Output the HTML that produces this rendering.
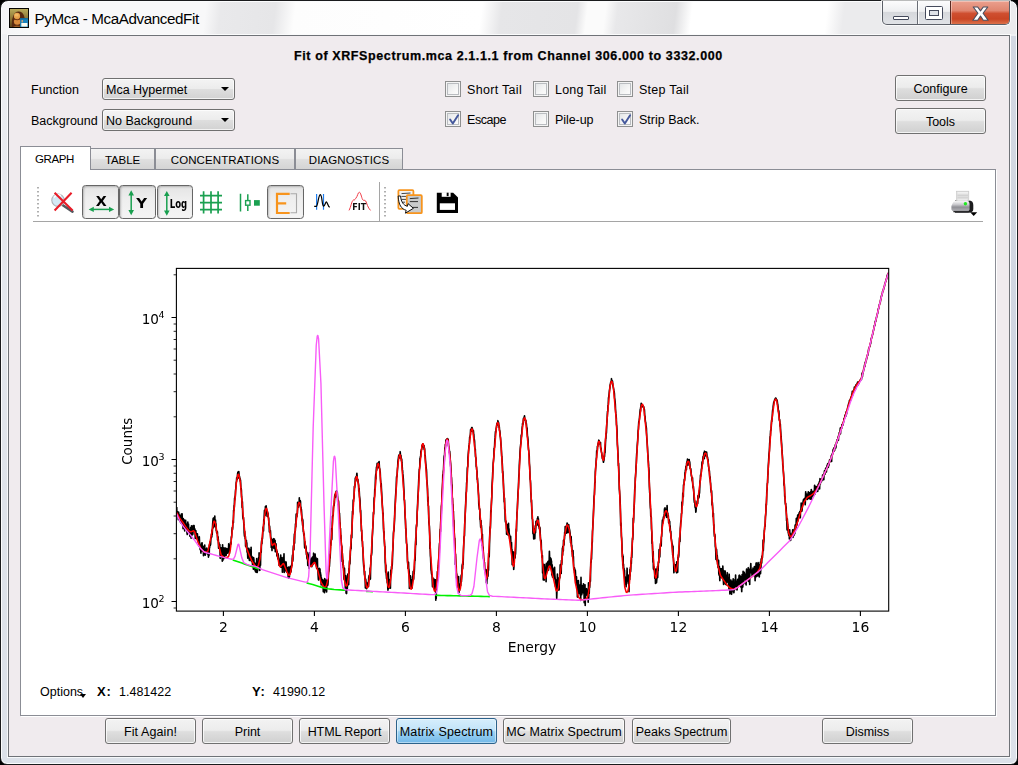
<!DOCTYPE html>
<html lang="en">
<head>
<meta charset="utf-8">
<title>PyMca - McaAdvancedFit</title>
<style>
html,body{margin:0;padding:0;background:#000;}
body{width:1018px;height:765px;overflow:hidden;position:relative;font-family:"Liberation Sans",Arial,sans-serif;font-size:12.5px;color:#000;}
.abs{position:absolute;}
#frame{position:absolute;left:0;top:0;width:1016px;height:763px;border:1px solid #1a1b1d;border-radius:8px 8px 7px 7px;
 background:linear-gradient(180deg,#f6f6f8 0px,#eff0f3 36px,#e6e9ee 200px,#dfe3ea 500px,#dce1e9 765px);box-shadow:inset 0 0 0 1px #fbfcfd;}
#glare{position:absolute;left:2px;top:2px;width:1014px;height:32px;border-radius:6px 6px 0 0;
 background:linear-gradient(97deg,#f4f4f6 0,#f8f8f9 30px,#f8f8f9 203px,#e9e9eb 218px,#e6e6e8 272px,#fdfdfd 292px,#ffffff 477px,#e6e6e8 497px,#e4e4e6 572px,#fbfbfb 582px,#fbfbfb 600px,#e8e8ea 612px,#dfdfe1 670px,#ffffff 686px,#ffffff 820px,#ebebed 837px,#ebebed 1014px);}
#title{position:absolute;left:34.5px;top:8.5px;font-size:15.2px;letter-spacing:-0.4px;line-height:20px;white-space:nowrap;color:#000;text-shadow:0 0 6px #fff,0 0 10px #fff;}
#client{position:absolute;left:8px;top:35px;width:1000px;height:720px;border:1px solid #6f7277;background:#f0ebee;box-shadow:0 0 0 1px rgba(255,255,255,.75);}
.lbl{position:absolute;white-space:nowrap;line-height:16px;}
.combo{position:absolute;width:131px;height:20px;border:1px solid #707070;border-radius:3px;background:linear-gradient(180deg,#f4f4f4 0,#ececec 48%,#dedede 52%,#d2d2d2 100%);box-shadow:inset 0 0 0 1px rgba(255,255,255,.7);}
.combo span{position:absolute;left:3px;top:3px;line-height:16px;white-space:nowrap;}
.combo i{position:absolute;right:5px;top:8px;width:0;height:0;border-left:4px solid transparent;border-right:4px solid transparent;border-top:4px solid #000;}
.cb{position:absolute;width:14px;height:14px;border:1px solid #8e8f8f;background:#f4f4f4;box-shadow:inset 0 0 0 1px #f4f4f4,inset 0 0 0 2px #b9bcc0;background:linear-gradient(135deg,#dfe2e4 0,#f6f6f6 60%,#ffffff 100%);}
.cb svg{position:absolute;left:1px;top:1px;}
.btn{position:absolute;height:24px;border:1px solid #707070;border-radius:3px;background:linear-gradient(180deg,#f3f3f3 0,#ececec 47%,#dedede 53%,#d0d0d0 100%);box-shadow:inset 0 0 0 1px rgba(255,255,255,.75);text-align:center;line-height:26px;white-space:nowrap;}
.btn.hot{border-color:#2c628b;background:linear-gradient(180deg,#d6eefc 0,#c2e4f9 47%,#9ed3f4 53%,#72b8e8 100%);box-shadow:inset 0 0 0 1px rgba(255,255,255,.45);}
#pane{position:absolute;left:20px;top:169px;width:974px;height:545px;border:1px solid #8b8d95;background:#fff;box-shadow:1px 1px 0 #fff;}
.tab{position:absolute;top:148px;height:21px;border:1px solid #8b8d95;border-bottom:none;background:linear-gradient(180deg,#f3f3f3 0,#ececec 47%,#dfdfdf 53%,#d4d4d4 100%);text-align:center;line-height:23px;font-size:11.5px;white-space:nowrap;box-sizing:border-box;}
.tab.sel{top:146px;height:24px;background:#fff;line-height:25px;z-index:3;}
.tbtn{position:absolute;width:34.5px;height:31.5px;border:1px solid #666;border-radius:3.5px;background:linear-gradient(180deg,#e4e4e4 0,#efefef 45%,#f4f4f4 100%);box-shadow:inset 1px 1px 2px rgba(0,0,0,.22);}
svg{display:block;}
#plot text{font-family:"DejaVu Sans","Liberation Sans",sans-serif;fill:#000;}
</style>
</head>
<body>
<div id="frame"></div>
<div id="glare"></div>
<div class="abs" style="left:1011px;top:36px;width:5px;height:722px;background:linear-gradient(180deg,#d3d8e2 0,#cfd5e0 60%,#d9dee7 92%,#dde2ea 100%)"></div>
<svg class="abs" style="left:9px;top:8px;filter:drop-shadow(0 0 1px #fff)" width="20" height="20" viewBox="0 0 20 20">
 <defs><linearGradient id="icb" x1="0" y1="0" x2="0" y2="1"><stop offset="0" stop-color="#b9aa5a"/><stop offset=".55" stop-color="#8a7434"/><stop offset="1" stop-color="#5e4218"/></linearGradient></defs>
 <rect x="0" y="0" width="20" height="20" fill="#050402"/>
 <rect x="1" y="1" width="18" height="18" fill="url(#icb)"/>
 <path d="M3 19 Q2.2 9 6 5 Q9.5 2.2 13.2 4.8 Q16.6 8 16 19 Z" fill="#5a2a10"/>
 <ellipse cx="8" cy="8" rx="3.1" ry="3.2" fill="#e6a24c"/>
 <ellipse cx="7.6" cy="7" rx="2" ry="1.5" fill="#f0b865"/>
 <ellipse cx="8.2" cy="13.6" rx="3.3" ry="3.2" fill="#d98a3c"/>
 <path d="M5 11.1 Q8.2 12.4 11.3 11.1" stroke="#6a3312" stroke-width="1" fill="none"/>
 <path d="M4 19 Q8 16 12 19 Z" fill="#9a5a24"/>
 <rect x="11.1" y="10.2" width="7.9" height="8.8" fill="#1c84be"/>
 <rect x="11.1" y="10.2" width="7.9" height="1.2" fill="#0f6698"/>
 <rect x="12.6" y="12" width="1.3" height="2.4" fill="#d9a070"/>
 <rect x="12.3" y="15" width="6.1" height="3.6" fill="#fbfbef"/>
</svg>
<div id="title">PyMca - McaAdvancedFit</div>
<div class="abs" style="left:882px;top:1px;width:128px;height:24px;border:1px solid #5c6068;border-top:none;border-radius:0 0 5px 5px;box-sizing:border-box;overflow:hidden;background:linear-gradient(180deg,#fcfcfd 0,#eeeff1 45%,#d6d8dc 50%,#e0e2e6 100%);box-shadow:0 0 0 1px rgba(255,255,255,.7);">
 <div class="abs" style="left:34px;top:0;width:1px;height:24px;background:#6a6e76"></div>
 <div class="abs" style="left:35px;top:0;width:1px;height:24px;background:rgba(255,255,255,.8)"></div>
 <div class="abs" style="left:67px;top:0;width:60px;height:24px;border-left:1px solid #5a2a22;background:linear-gradient(180deg,#eba08e 0,#e08670 40%,#cf4f30 52%,#c94524 75%,#e07a52 100%);box-shadow:inset 0 0 0 1px rgba(255,255,255,.35)"></div>
 <svg class="abs" style="left:0;top:0" width="128" height="24" viewBox="0 0 128 24">
  <rect x="10.5" y="15.5" width="15" height="3" rx="0.5" fill="#fff" stroke="#454a5c" stroke-width="1"/>
  <rect x="42.5" y="5.5" width="17" height="13" rx="1" fill="#fff" stroke="#454a5c" stroke-width="1"/>
  <rect x="46.5" y="9.5" width="9" height="5" fill="#dfe2e8" stroke="#454a5c" stroke-width="1"/>
  <path transform="translate(97.5 12.6) scale(1.12 1.1) translate(-97.5 -13)" d="M91 7 L95 7 L97.5 10.5 L100 7 L104 7 L99.8 12.7 L104.3 19 L100 19 L97.5 15.2 L95 19 L90.7 19 L95.2 12.7 Z" fill="#fff" stroke="#4a4e5e" stroke-width="1" stroke-linejoin="round"/>
 </svg>
</div>

<div id="client"></div>
<div class="lbl" style="left:294px;top:48px;width:430px;font-weight:bold;letter-spacing:0.61px;-webkit-text-stroke:0.25px #000;">Fit of XRFSpectrum.mca 2.1.1.1 from Channel 306.000 to 3332.000</div>
<div class="lbl" style="left:31px;top:82px">Function</div>
<div class="lbl" style="left:31px;top:113px">Background</div>
<div class="combo" style="left:102px;top:78px"><span>Mca Hypermet</span><i></i></div>
<div class="combo" style="left:102px;top:109px"><span>No Background</span><i></i></div>
<div class="cb" style="left:445px;top:81px"></div><div class="lbl" style="left:467px;top:82px;letter-spacing:0.31px">Short Tail</div>
<div class="cb" style="left:533px;top:81px"></div><div class="lbl" style="left:555px;top:82px;letter-spacing:0.18px">Long Tail</div>
<div class="cb" style="left:617px;top:81px"></div><div class="lbl" style="left:639px;top:82px;letter-spacing:0.27px">Step Tail</div>
<div class="cb" style="left:445px;top:111px"><svg width="14" height="14" viewBox="-0.5 -0.5 13 13"><path d="M2.4 5.6 L4.9 9.2 L9.8 1.6" fill="none" stroke="#46599c" stroke-width="1.8" stroke-linecap="round" stroke-linejoin="round"/></svg></div><div class="lbl" style="left:467px;top:112px;letter-spacing:-0.45px">Escape</div>
<div class="cb" style="left:533px;top:111px"></div><div class="lbl" style="left:555px;top:112px;letter-spacing:-0.06px">Pile-up</div>
<div class="cb" style="left:617px;top:111px"><svg width="14" height="14" viewBox="-0.5 -0.5 13 13"><path d="M2.4 5.6 L4.9 9.2 L9.8 1.6" fill="none" stroke="#46599c" stroke-width="1.8" stroke-linecap="round" stroke-linejoin="round"/></svg></div><div class="lbl" style="left:639px;top:112px;letter-spacing:0.0px">Strip Back.</div>
<div class="btn" style="left:895px;top:75px;width:89px">Configure</div>
<div class="btn" style="left:895px;top:108px;width:89px">Tools</div>

<div id="pane"></div>
<div class="tab sel" style="left:20px;width:71px;letter-spacing:-0.4px;padding-right:2px">GRAPH</div>
<div class="tab" style="left:90px;width:65px;letter-spacing:-0.15px">TABLE</div>
<div class="tab" style="left:155px;width:140px;letter-spacing:0.1px">CONCENTRATIONS</div>
<div class="tab" style="left:295px;width:108px;letter-spacing:0.1px">DIAGNOSTICS</div>

<div class="abs" style="left:33px;top:221px;width:950px;height:1px;background:#a5a5a5"></div>
<div class="tbtn" style="left:82px;top:185px"></div>
<div class="tbtn" style="left:119px;top:185px"></div>
<div class="tbtn" style="left:156.5px;top:185px"></div>
<div class="tbtn" style="left:267px;top:185px"></div>
<svg class="abs" style="left:30px;top:180px;will-change:transform" width="960" height="42" viewBox="30 180 960 42">
 <!-- handles -->
 <path d="M38 187v1.6M38 191v1.6M38 195v1.6M38 199v1.6M38 203v1.6M38 207v1.6M38 211v1.6M38 215v1.6" stroke="#9c9c9c" stroke-width="1.6" stroke-dasharray="none"/>
 <path d="M385 187v1.6M385 191v1.6M385 195v1.6M385 199v1.6M385 203v1.6M385 207v1.6M385 211v1.6M385 215v1.6" stroke="#9c9c9c" stroke-width="1.6"/>
 <path d="M379.5 182V221" stroke="#a5a5a5" stroke-width="1"/>
 <!-- zoom reset -->
 <path d="M62.5 205 L72.5 211.6" stroke="#55585e" stroke-width="2.6" stroke-linecap="round"/>
 <circle cx="58" cy="200.2" r="6.2" fill="#d4e9f5" stroke="#b0b3b9" stroke-width="1.1"/>
 <path d="M54 197.5 A5 5 0 0 1 61 195.6" stroke="#fff" stroke-width="1.6" fill="none"/>
 <path d="M54.6 192.8 L72.6 210.4 M71.6 192.8 L54.6 210.4" stroke="#e81c28" stroke-width="2.1" stroke-linecap="butt"/>
 <!-- X -->
 <text x="101.2" y="205.6" font-family="'DejaVu Sans','Liberation Sans',sans-serif" font-weight="bold" font-size="13.5" text-anchor="middle" textLength="11" lengthAdjust="spacingAndGlyphs" fill="#000">X</text>
 <path d="M92.5 209.4H110.5" stroke="#1aa050" stroke-width="1.5"/>
 <path d="M88.6 209.4l5.2-2.7v5.4z M114.2 209.4l-5.2-2.7v5.4z" fill="#1aa050"/>
 <!-- Y -->
 <path d="M131.2 194.5V211" stroke="#1aa050" stroke-width="1.5"/>
 <path d="M131.2 190.3l-2.8 5.2h5.6z M131.2 215.2l-2.8-5.2h5.6z" fill="#1aa050"/>
 <text x="141.6" y="207.6" font-family="'DejaVu Sans','Liberation Sans',sans-serif" font-weight="bold" font-size="13.5" text-anchor="middle" textLength="10.8" lengthAdjust="spacingAndGlyphs" fill="#000">Y</text>
 <!-- Log -->
 <path d="M166.8 195V211.5" stroke="#1aa050" stroke-width="1.5"/>
 <path d="M166.8 190.9l-2.8 5.2h5.6z M166.8 215.7l-2.8-5.2h5.6z" fill="#1aa050"/>
 <text x="169.8" y="207.6" font-family="'DejaVu Sans Condensed','Liberation Sans',sans-serif" font-weight="bold" font-size="12" textLength="17.4" lengthAdjust="spacingAndGlyphs" fill="#000">Log</text>
 <!-- grid -->
 <path d="M200 195.6H222M200 202.6H222M200 209.6H222M203.6 191.3V213.4M211 191.3V213.4M218.1 191.3V213.4" stroke="#1aa050" stroke-width="1.7"/>
 <!-- points/lines -->
 <path d="M240.5 193.7V211.4M247.8 194.2V200M247.8 205.6V211" stroke="#1aa050" stroke-width="1.5"/>
 <rect x="245.6" y="200.6" width="4.4" height="4.6" fill="#fff" stroke="#1aa050" stroke-width="1.4"/>
 <rect x="254" y="200.1" width="5.8" height="5.6" fill="#1aa050"/>
 <!-- E] -->
 <path d="M289.7 193.8H277V213H289.7M277 203.3H286.2" stroke="#f7941d" stroke-width="2.2" fill="none"/>
 <path d="M290.5 193.8H296.5V212.7H290.5" stroke="#a9a9a9" stroke-width="1.1" fill="none"/>
 <!-- peak search -->
 <path d="M316.6 193.9V209.8M323.5 193.9V209.8" stroke="#1e7ef0" stroke-width="1.2"/>
 <path d="M314.2 206.3H316.4C318 206 318.3 195 320.3 194.6C322.3 195 321.8 205.6 323.6 206.2C325 206 325.4 201.8 326.4 201.8C327.5 202 327.6 206.4 329.8 207.2" stroke="#000" stroke-width="1.2" fill="none"/>
 <!-- FIT -->
 <path d="M349 210.4C351 207 351.5 201 353.4 200C355 200.2 355.2 199 356 198C357.5 196.5 358 192.2 359.3 192.2C360.6 192.2 361.5 197 362.5 199.5C363.3 201 364.6 199.6 365.7 201C367 203.5 367.6 207.5 370.5 210.4" stroke="#f03a46" stroke-width="1" fill="none"/>
 <text x="352.3" y="209.8" font-family="'DejaVu Sans','Liberation Sans',sans-serif" font-weight="bold" font-size="8.6" textLength="14" lengthAdjust="spacingAndGlyphs" fill="#111">FIT</text>
 <!-- copy -->
 <rect x="398.4" y="190.2" width="15" height="18.6" rx="1" fill="#f2f2f2" stroke="#f7941d" stroke-width="1.8"/>
 <path d="M401.5 193.6L410.5 193M401.5 196.4H408.5M401.5 199.4H406M401.5 202.2H405" stroke="#444" stroke-width="1"/>
 <rect x="406.8" y="195.2" width="15" height="18" rx="1" fill="#c9cbcc" stroke="#f7941d" stroke-width="1.8"/>
 <path d="M409.8 198.6L418.5 198M409.8 201.6H418M411.8 207.4H418" stroke="#333" stroke-width="1"/>
 <path d="M398.2 196C398.5 205 401.5 209 406.2 210.3L405.4 213.2L413.4 208.3L408 203.6L407.4 206.3C403.5 205.3 401 202 400.6 196Z" fill="#fff" stroke="#111" stroke-width="1" stroke-linejoin="round"/>
 <!-- save -->
 <path d="M436.8 192.7H453.2L458 197.5V212.9H436.8Z" fill="#000"/>
 <rect x="441.7" y="192.2" width="8.9" height="4.6" fill="#fff"/>
 <rect x="446.7" y="192.7" width="1.9" height="3.4" fill="#000"/>
 <rect x="439.8" y="203.3" width="15.2" height="6.6" fill="#fff"/>
 <!-- printer -->
 <defs>
  <linearGradient id="prf" x1="0" y1="0" x2="0" y2="1"><stop offset="0" stop-color="#fdfdfd"/><stop offset=".35" stop-color="#c9c9cd"/><stop offset=".6" stop-color="#8f8f95"/><stop offset="1" stop-color="#b5b5ba"/></linearGradient>
 </defs>
 <path d="M955 200.6H968.5Q973.3 200.6 973.3 205V209Q973.3 212.8 968.5 212.8H955Z" fill="#1c1c1e"/>
 <path d="M952.2 204.2Q953.5 200.8 956 200.8H967Q969.5 201 969.6 204.2V209.5Q969.4 211.3 967 211.4H954Q951.6 211.3 951.4 209.5V206Z" fill="url(#prf)"/>
 <path d="M953.4 211.6H968.4" stroke="#2a2a2c" stroke-width="1.4"/>
 <rect x="956.6" y="191.2" width="12.2" height="9.6" fill="#dedede" stroke="#c4c4c4" stroke-width=".6"/>
 <path d="M957.5 192.8H968M957.5 200H967.5" stroke="#f6f6f6" stroke-width="1.2"/>
 <path d="M957.5 195.5H968M957.5 197.6H968" stroke="#cfcfcf" stroke-width=".8"/>
 <circle cx="965.4" cy="203.8" r="1.7" fill="#20e820"/>
 <path d="M970.2 212.2H977.2L973.7 215.9Z" fill="#000"/>
</svg>

<svg id="plot" class="abs" style="left:0;top:222px;will-change:transform" width="1018" height="460" viewBox="0 222 1018 460">
<clipPath id="ax"><rect x="176.4" y="268.4" width="712.3000000000001" height="342.70000000000005"/></clipPath>
<g clip-path="url(#ax)" fill="none" stroke-linejoin="round" stroke-linecap="butt">
<path d="M176.7,507.1 L176.9,513.4 L177.2,512.4 L177.4,511.8 L177.6,515.6 L177.9,513.7 L178.1,514.1 L178.3,519.7 L178.6,512.0 L178.8,513.5 L179.1,517.5 L179.3,516.5 L179.5,514.9 L179.8,517.6 L180.0,517.8 L180.2,521.8 L180.5,516.0 L180.7,517.5 L180.9,517.4 L181.2,523.2 L181.4,514.0 L181.6,518.6 L181.9,520.6 L182.1,513.9 L182.3,520.2 L182.6,525.0 L182.8,522.1 L183.1,528.6 L183.3,518.5 L183.5,523.3 L183.8,524.8 L184.0,519.6 L184.2,528.6 L184.5,522.1 L184.7,531.0 L184.9,526.6 L185.2,528.8 L185.4,520.8 L185.6,520.3 L185.9,527.1 L186.1,523.8 L186.3,527.3 L186.6,525.3 L186.8,530.0 L187.1,533.7 L187.3,534.4 L187.5,527.4 L187.8,522.0 L188.0,528.4 L188.2,531.4 L188.5,524.0 L188.7,529.4 L188.9,530.1 L189.2,529.9 L189.4,531.3 L189.6,532.1 L189.9,536.2 L190.1,529.7 L190.3,531.8 L190.6,527.7 L190.8,532.7 L191.1,538.1 L191.3,531.7 L191.5,525.9 L191.8,532.4 L192.0,534.0 L192.2,534.9 L192.5,534.2 L192.7,531.5 L192.9,534.4 L193.2,525.5 L193.4,531.1 L193.6,529.8 L193.9,525.7 L194.1,525.6 L194.3,531.3 L194.6,529.8 L194.8,528.9 L195.1,532.4 L195.3,538.5 L195.5,530.7 L195.8,530.6 L196.0,532.8 L196.2,538.2 L196.5,536.5 L196.7,538.7 L196.9,538.5 L197.2,533.9 L197.4,533.9 L197.6,537.5 L197.9,538.7 L198.1,539.0 L198.3,542.1 L198.6,543.0 L198.8,545.9 L199.1,544.2 L199.3,536.7 L199.5,541.9 L199.8,546.8 L200.0,547.7 L200.2,549.7 L200.5,545.3 L200.7,545.6 L200.9,553.1 L201.2,545.9 L201.4,550.3 L201.6,543.2 L201.9,548.1 L202.1,542.8 L202.3,551.1 L202.6,550.7 L202.8,548.8 L203.1,546.3 L203.3,548.4 L203.5,555.7 L203.8,550.2 L204.0,550.9 L204.2,552.9 L204.5,553.9 L204.7,545.0 L204.9,553.1 L205.2,555.1 L205.4,549.4 L205.6,551.4 L205.9,552.2 L206.1,548.9 L206.3,550.0 L206.6,550.4 L206.8,548.1 L207.1,550.6 L207.3,553.9 L207.5,552.7 L207.8,553.0 L208.0,549.8 L208.2,554.4 L208.5,557.1 L208.7,548.6 L208.9,553.5 L209.2,555.1 L209.4,544.9 L209.6,547.9 L209.9,542.2 L210.1,544.6 L210.3,545.4 L210.6,544.3 L210.8,540.0 L211.1,537.5 L211.3,537.8 L211.5,534.2 L211.8,537.0 L212.0,530.0 L212.2,534.6 L212.5,527.7 L212.7,523.6 L212.9,521.2 L213.2,518.4 L213.4,527.7 L213.6,519.7 L213.9,517.9 L214.1,518.2 L214.3,523.9 L214.6,519.9 L214.8,516.0 L215.1,526.7 L215.3,521.1 L215.5,520.1 L215.8,526.7 L216.0,523.9 L216.2,530.5 L216.5,531.2 L216.7,532.8 L216.9,531.0 L217.2,533.7 L217.4,531.9 L217.6,540.1 L217.9,539.0 L218.1,536.8 L218.3,539.8 L218.6,548.3 L218.8,542.3 L219.1,547.8 L219.3,545.7 L219.5,547.1 L219.8,544.6 L220.0,549.5 L220.2,558.3 L220.5,556.8 L220.7,548.8 L220.9,553.0 L221.2,547.9 L221.4,551.4 L221.6,555.6 L221.9,548.5 L222.1,555.8 L222.3,561.2 L222.6,544.8 L222.8,560.4 L223.1,549.8 L223.3,548.5 L223.5,551.4 L223.8,558.8 L224.0,547.9 L224.2,557.5 L224.5,557.0 L224.7,552.8 L224.9,548.3 L225.2,550.0 L225.4,548.0 L225.6,552.8 L225.9,551.7 L226.1,555.5 L226.3,552.2 L226.6,548.6 L226.8,552.1 L227.1,549.1 L227.3,553.1 L227.5,553.2 L227.8,550.7 L228.0,551.5 L228.2,548.4 L228.5,549.8 L228.7,543.9 L228.9,550.9 L229.2,550.6 L229.4,553.4 L229.6,548.6 L229.9,545.4 L230.1,550.0 L230.3,546.3 L230.6,542.3 L230.8,544.0 L231.1,543.9 L231.3,536.9 L231.5,538.0 L231.8,534.8 L232.0,530.0 L232.2,527.7 L232.5,529.8 L232.7,527.6 L232.9,522.1 L233.2,520.4 L233.4,522.8 L233.6,510.3 L233.9,510.7 L234.1,505.6 L234.3,507.7 L234.6,498.2 L234.8,500.1 L235.1,496.0 L235.3,496.5 L235.5,490.8 L235.8,488.5 L236.0,486.1 L236.2,482.6 L236.5,481.5 L236.7,477.9 L236.9,479.5 L237.2,479.4 L237.4,476.2 L237.6,474.0 L237.9,472.1 L238.1,472.6 L238.4,478.0 L238.6,473.5 L238.8,471.6 L239.1,475.0 L239.3,477.0 L239.5,476.3 L239.8,479.3 L240.0,478.2 L240.2,481.3 L240.5,480.1 L240.7,484.1 L240.9,489.2 L241.2,488.5 L241.4,490.3 L241.6,496.7 L241.9,499.2 L242.1,507.4 L242.4,501.8 L242.6,508.9 L242.8,516.7 L243.1,519.0 L243.3,517.5 L243.5,517.7 L243.8,523.4 L244.0,524.6 L244.2,532.6 L244.5,536.3 L244.7,531.3 L244.9,535.0 L245.2,539.0 L245.4,536.5 L245.6,546.3 L245.9,545.9 L246.1,542.1 L246.4,540.5 L246.6,548.1 L246.8,542.9 L247.1,552.2 L247.3,549.2 L247.5,551.8 L247.8,558.1 L248.0,551.0 L248.2,548.9 L248.5,553.4 L248.7,553.4 L248.9,548.2 L249.2,559.0 L249.4,560.5 L249.6,557.2 L249.9,559.9 L250.1,550.1 L250.4,554.5 L250.6,559.8 L250.8,559.2 L251.1,547.3 L251.3,560.1 L251.5,561.3 L251.8,557.3 L252.0,556.5 L252.2,558.6 L252.5,564.0 L252.7,565.6 L252.9,558.6 L253.2,561.7 L253.4,569.3 L253.6,557.6 L253.9,559.6 L254.1,564.2 L254.4,564.7 L254.6,562.9 L254.8,567.3 L255.1,570.7 L255.3,563.4 L255.5,571.7 L255.8,563.6 L256.0,572.2 L256.2,566.1 L256.5,566.4 L256.7,558.6 L256.9,570.8 L257.2,572.5 L257.4,568.8 L257.6,570.9 L257.9,568.3 L258.1,563.5 L258.4,561.7 L258.6,557.7 L258.8,567.1 L259.1,552.9 L259.3,554.3 L259.5,562.0 L259.8,570.4 L260.0,558.9 L260.2,556.7 L260.5,565.4 L260.7,553.1 L260.9,552.1 L261.2,552.2 L261.4,544.5 L261.6,540.8 L261.9,543.6 L262.1,538.4 L262.4,538.9 L262.6,536.6 L262.8,531.0 L263.1,527.0 L263.3,527.9 L263.5,531.0 L263.8,519.6 L264.0,524.2 L264.2,516.8 L264.5,510.3 L264.7,513.7 L264.9,515.6 L265.2,515.2 L265.4,506.7 L265.6,509.2 L265.9,507.1 L266.1,505.8 L266.4,508.4 L266.6,509.3 L266.8,511.5 L267.1,516.3 L267.3,514.9 L267.5,511.8 L267.8,513.4 L268.0,513.3 L268.2,516.6 L268.5,517.6 L268.7,517.8 L268.9,525.1 L269.2,525.4 L269.4,532.1 L269.6,526.0 L269.9,531.2 L270.1,531.9 L270.4,530.5 L270.6,533.9 L270.8,539.5 L271.1,538.0 L271.3,547.5 L271.5,541.5 L271.8,543.3 L272.0,550.6 L272.2,539.8 L272.5,547.2 L272.7,542.0 L272.9,545.7 L273.2,540.2 L273.4,538.7 L273.6,546.0 L273.9,548.4 L274.1,542.7 L274.4,539.0 L274.6,543.3 L274.8,544.3 L275.1,540.5 L275.3,551.7 L275.5,545.8 L275.8,549.4 L276.0,543.9 L276.2,548.9 L276.5,551.7 L276.7,550.0 L276.9,556.0 L277.2,551.6 L277.4,555.8 L277.6,556.1 L277.9,559.0 L278.1,553.8 L278.4,559.2 L278.6,557.8 L278.8,559.0 L279.1,565.4 L279.3,560.2 L279.5,561.7 L279.8,562.2 L280.0,565.5 L280.2,565.8 L280.5,560.6 L280.7,555.0 L280.9,567.2 L281.2,561.0 L281.4,564.5 L281.6,559.3 L281.9,560.4 L282.1,557.5 L282.4,572.2 L282.6,564.0 L282.8,565.5 L283.1,561.5 L283.3,564.2 L283.5,563.9 L283.8,558.5 L284.0,553.9 L284.2,572.5 L284.5,563.6 L284.7,561.4 L284.9,563.3 L285.2,565.4 L285.4,570.7 L285.6,569.5 L285.9,562.8 L286.1,562.1 L286.4,567.0 L286.6,572.0 L286.8,568.4 L287.1,570.5 L287.3,567.6 L287.5,570.1 L287.8,574.0 L288.0,570.6 L288.2,577.5 L288.5,568.4 L288.7,567.0 L288.9,578.1 L289.2,570.4 L289.4,577.0 L289.6,567.3 L289.9,567.7 L290.1,572.4 L290.4,566.4 L290.6,572.1 L290.8,572.2 L291.1,570.9 L291.3,567.8 L291.5,567.3 L291.8,563.8 L292.0,565.6 L292.2,558.0 L292.5,555.1 L292.7,559.2 L292.9,560.9 L293.2,549.8 L293.4,545.8 L293.6,548.1 L293.9,549.8 L294.1,541.1 L294.4,534.1 L294.6,543.3 L294.8,532.1 L295.1,531.9 L295.3,530.9 L295.5,523.9 L295.8,527.0 L296.0,519.4 L296.2,514.1 L296.5,515.1 L296.7,516.1 L296.9,516.8 L297.2,513.4 L297.4,513.3 L297.6,502.4 L297.9,506.0 L298.1,507.2 L298.4,507.0 L298.6,505.7 L298.8,503.3 L299.1,505.6 L299.3,497.9 L299.5,504.3 L299.8,504.9 L300.0,502.6 L300.2,500.5 L300.5,501.8 L300.7,507.8 L300.9,507.1 L301.2,509.0 L301.4,509.6 L301.6,512.2 L301.9,517.7 L302.1,520.9 L302.4,518.7 L302.6,525.2 L302.8,519.7 L303.1,526.0 L303.3,531.8 L303.5,531.7 L303.8,534.6 L304.0,535.5 L304.2,533.9 L304.5,544.4 L304.7,548.0 L304.9,541.5 L305.2,545.0 L305.4,545.2 L305.6,545.6 L305.9,549.2 L306.1,546.8 L306.4,554.5 L306.6,551.8 L306.8,556.5 L307.1,558.8 L307.3,552.7 L307.5,553.8 L307.8,565.5 L308.0,562.8 L308.2,557.7 L308.5,555.4 L308.7,563.4 L308.9,562.1 L309.2,568.4 L309.4,552.8 L309.6,561.2 L309.9,559.9 L310.1,561.1 L310.4,560.2 L310.6,561.7 L310.8,565.7 L311.1,561.0 L311.3,563.7 L311.5,558.4 L311.8,566.7 L312.0,565.5 L312.2,560.0 L312.5,557.1 L312.7,561.4 L312.9,564.7 L313.2,561.8 L313.4,563.1 L313.6,553.2 L313.9,556.9 L314.1,555.3 L314.4,559.1 L314.6,562.8 L314.8,555.8 L315.1,554.1 L315.3,558.6 L315.5,561.4 L315.8,557.3 L316.0,563.9 L316.2,559.7 L316.5,566.6 L316.7,568.5 L316.9,562.5 L317.2,564.3 L317.4,558.7 L317.6,568.7 L317.9,568.3 L318.1,574.7 L318.4,579.4 L318.6,579.9 L318.8,570.0 L319.1,578.7 L319.3,568.9 L319.5,568.4 L319.8,577.0 L320.0,569.0 L320.2,576.2 L320.5,572.8 L320.7,579.9 L320.9,574.9 L321.2,584.9 L321.4,577.7 L321.6,583.6 L321.9,582.5 L322.1,579.2 L322.4,581.9 L322.6,583.6 L322.8,580.0 L323.1,580.0 L323.3,591.7 L323.5,581.8 L323.8,581.5 L324.0,589.0 L324.2,583.3 L324.5,592.7 L324.7,578.6 L324.9,586.9 L325.2,586.1 L325.4,579.8 L325.6,586.4 L325.9,582.4 L326.1,590.8 L326.4,587.8 L326.6,591.9 L326.8,584.9 L327.1,578.1 L327.3,581.1 L327.5,576.9 L327.8,585.3 L328.0,583.0 L328.2,579.3 L328.5,572.5 L328.7,571.5 L328.9,570.9 L329.2,565.7 L329.4,566.4 L329.6,562.9 L329.9,554.6 L330.1,558.3 L330.4,551.9 L330.6,543.4 L330.8,545.4 L331.1,539.8 L331.3,540.9 L331.5,528.7 L331.8,539.4 L332.0,531.7 L332.2,527.8 L332.5,516.3 L332.7,516.7 L332.9,515.4 L333.2,515.4 L333.4,507.8 L333.6,505.9 L333.9,505.6 L334.1,505.5 L334.4,502.4 L334.6,497.2 L334.8,495.4 L335.1,494.6 L335.3,494.1 L335.5,497.3 L335.8,492.2 L336.0,494.5 L336.2,491.8 L336.5,490.9 L336.7,494.1 L336.9,495.7 L337.2,491.7 L337.4,494.4 L337.6,498.3 L337.9,504.4 L338.1,500.3 L338.4,500.6 L338.6,501.7 L338.8,509.0 L339.1,511.6 L339.3,514.0 L339.5,513.4 L339.8,522.6 L340.0,522.7 L340.2,528.8 L340.5,528.4 L340.7,538.4 L340.9,535.3 L341.2,542.0 L341.4,544.7 L341.6,545.5 L341.9,546.6 L342.1,561.5 L342.4,553.6 L342.6,558.4 L342.8,564.9 L343.1,560.4 L343.3,568.0 L343.5,565.5 L343.8,576.0 L344.0,579.3 L344.2,571.1 L344.5,568.4 L344.7,576.3 L344.9,576.1 L345.2,583.7 L345.4,588.9 L345.6,583.6 L345.9,575.7 L346.1,593.2 L346.4,585.7 L346.6,593.6 L346.8,582.3 L347.1,578.2 L347.3,588.4 L347.5,583.2 L347.8,574.0 L348.0,579.5 L348.2,584.0 L348.5,582.8 L348.7,584.6 L348.9,568.7 L349.2,573.3 L349.4,562.7 L349.6,560.7 L349.9,564.0 L350.1,560.0 L350.4,551.2 L350.6,549.8 L350.8,545.5 L351.1,548.7 L351.3,535.2 L351.5,537.0 L351.8,537.7 L352.0,527.5 L352.2,520.1 L352.5,511.3 L352.7,514.3 L352.9,513.2 L353.2,500.2 L353.4,501.7 L353.6,499.4 L353.9,498.3 L354.1,495.1 L354.4,486.4 L354.6,488.0 L354.8,486.3 L355.1,484.2 L355.3,478.0 L355.5,481.2 L355.8,477.3 L356.0,477.1 L356.2,476.5 L356.5,478.5 L356.7,475.1 L356.9,473.3 L357.2,477.2 L357.4,479.8 L357.7,481.6 L357.9,479.6 L358.1,482.1 L358.4,483.5 L358.6,485.3 L358.8,491.1 L359.1,488.3 L359.3,492.3 L359.5,496.0 L359.8,498.4 L360.0,500.0 L360.2,505.9 L360.5,512.2 L360.7,510.4 L360.9,519.0 L361.2,524.1 L361.4,531.2 L361.7,530.3 L361.9,538.2 L362.1,540.7 L362.4,541.4 L362.6,547.0 L362.8,547.2 L363.1,553.7 L363.3,560.2 L363.5,563.3 L363.8,567.3 L364.0,565.2 L364.2,570.6 L364.5,575.0 L364.7,571.3 L364.9,576.6 L365.2,581.0 L365.4,588.0 L365.7,579.1 L365.9,581.1 L366.1,582.8 L366.4,585.9 L366.6,588.6 L366.8,585.6 L367.1,583.5 L367.3,585.3 L367.5,585.3 L367.8,586.8 L368.0,582.2 L368.2,582.2 L368.5,586.5 L368.7,578.0 L368.9,576.8 L369.2,575.4 L369.4,578.3 L369.7,576.8 L369.9,579.4 L370.1,568.0 L370.4,579.1 L370.6,567.5 L370.8,564.0 L371.1,555.5 L371.3,555.2 L371.5,555.1 L371.8,552.7 L372.0,545.5 L372.2,537.9 L372.5,533.6 L372.7,529.8 L372.9,526.7 L373.2,520.6 L373.4,512.6 L373.7,514.1 L373.9,506.5 L374.1,498.3 L374.4,496.9 L374.6,495.5 L374.8,489.1 L375.1,488.9 L375.3,483.8 L375.5,477.5 L375.8,474.0 L376.0,479.0 L376.2,471.5 L376.5,467.0 L376.7,470.1 L376.9,466.9 L377.2,463.3 L377.4,466.0 L377.7,463.4 L377.9,463.9 L378.1,467.4 L378.4,463.0 L378.6,464.3 L378.8,462.8 L379.1,461.5 L379.3,465.2 L379.5,468.7 L379.8,468.7 L380.0,471.2 L380.2,471.7 L380.5,479.3 L380.7,481.5 L380.9,486.6 L381.2,483.6 L381.4,488.4 L381.7,493.5 L381.9,497.6 L382.1,501.2 L382.4,506.4 L382.6,509.0 L382.8,514.0 L383.1,513.1 L383.3,520.7 L383.5,528.9 L383.8,532.9 L384.0,531.6 L384.2,538.5 L384.5,543.5 L384.7,546.2 L384.9,547.0 L385.2,562.1 L385.4,563.9 L385.7,572.1 L385.9,565.1 L386.1,571.9 L386.4,576.0 L386.6,578.8 L386.8,573.9 L387.1,579.5 L387.3,583.0 L387.5,575.6 L387.8,588.1 L388.0,590.1 L388.2,572.0 L388.5,586.2 L388.7,587.3 L388.9,588.3 L389.2,585.0 L389.4,580.1 L389.7,579.7 L389.9,579.9 L390.1,583.0 L390.4,588.2 L390.6,577.5 L390.8,570.2 L391.1,570.3 L391.3,573.6 L391.5,566.7 L391.8,569.0 L392.0,564.3 L392.2,566.0 L392.5,558.2 L392.7,552.3 L392.9,549.3 L393.2,541.5 L393.4,533.3 L393.7,530.7 L393.9,531.3 L394.1,527.8 L394.4,522.7 L394.6,518.9 L394.8,511.1 L395.1,505.4 L395.3,501.6 L395.5,497.2 L395.8,493.0 L396.0,489.7 L396.2,487.2 L396.5,478.0 L396.7,476.0 L396.9,476.9 L397.2,473.8 L397.4,470.3 L397.7,466.4 L397.9,461.8 L398.1,460.2 L398.4,458.3 L398.6,456.7 L398.8,455.3 L399.1,454.9 L399.3,454.6 L399.5,455.1 L399.8,457.8 L400.0,454.8 L400.2,451.7 L400.5,456.3 L400.7,457.3 L400.9,455.4 L401.2,458.3 L401.4,460.9 L401.7,459.0 L401.9,462.7 L402.1,464.8 L402.4,469.9 L402.6,470.6 L402.8,473.9 L403.1,476.2 L403.3,478.9 L403.5,482.5 L403.8,488.5 L404.0,491.3 L404.2,500.1 L404.5,499.9 L404.7,504.2 L404.9,511.8 L405.2,517.7 L405.4,520.3 L405.7,528.8 L405.9,528.6 L406.1,533.4 L406.4,542.5 L406.6,543.4 L406.8,544.1 L407.1,548.2 L407.3,552.3 L407.5,560.6 L407.8,564.9 L408.0,568.4 L408.2,567.0 L408.5,562.2 L408.7,568.3 L408.9,569.4 L409.2,572.2 L409.4,588.4 L409.7,582.2 L409.9,584.5 L410.1,577.1 L410.4,575.8 L410.6,587.8 L410.8,584.4 L411.1,582.0 L411.3,587.4 L411.5,588.0 L411.8,587.9 L412.0,579.5 L412.2,587.9 L412.5,576.9 L412.7,580.8 L412.9,576.3 L413.2,571.3 L413.4,579.8 L413.7,578.3 L413.9,570.0 L414.1,574.1 L414.4,569.5 L414.6,563.4 L414.8,558.6 L415.1,560.6 L415.3,552.7 L415.5,544.6 L415.8,537.5 L416.0,544.7 L416.2,528.4 L416.5,524.9 L416.7,526.1 L416.9,522.2 L417.2,511.5 L417.4,508.9 L417.7,502.6 L417.9,496.0 L418.1,494.5 L418.4,488.7 L418.6,483.6 L418.8,478.6 L419.1,472.9 L419.3,469.4 L419.5,468.7 L419.8,466.3 L420.0,458.4 L420.2,458.6 L420.5,456.3 L420.7,456.6 L420.9,451.1 L421.2,451.8 L421.4,449.5 L421.7,449.5 L421.9,446.9 L422.1,445.0 L422.4,446.8 L422.6,445.4 L422.8,443.8 L423.1,445.8 L423.3,446.1 L423.5,446.0 L423.8,447.8 L424.0,445.5 L424.2,449.5 L424.5,448.1 L424.7,449.7 L424.9,455.4 L425.2,455.5 L425.4,459.1 L425.7,463.1 L425.9,464.6 L426.1,467.7 L426.4,469.3 L426.6,472.3 L426.8,480.7 L427.1,483.2 L427.3,485.4 L427.5,488.2 L427.8,501.5 L428.0,497.1 L428.2,505.5 L428.5,505.9 L428.7,516.2 L428.9,522.6 L429.2,524.9 L429.4,526.4 L429.7,535.0 L429.9,548.7 L430.1,542.3 L430.4,555.8 L430.6,557.7 L430.8,562.9 L431.1,570.1 L431.3,571.2 L431.5,573.4 L431.8,574.7 L432.0,574.8 L432.2,578.6 L432.5,586.8 L432.7,581.9 L432.9,577.9 L433.2,579.3 L433.4,584.4 L433.7,582.9 L433.9,582.2 L434.1,580.5 L434.4,579.4 L434.6,589.6 L434.8,589.4 L435.1,580.7 L435.3,580.1 L435.5,579.8 L435.8,600.2 L436.0,587.4 L436.2,598.5 L436.5,580.7 L436.7,582.7 L436.9,581.2 L437.2,580.4 L437.4,571.7 L437.7,576.8 L437.9,568.2 L438.1,567.5 L438.4,565.2 L438.6,561.3 L438.8,559.0 L439.1,560.0 L439.3,548.4 L439.5,544.0 L439.8,542.5 L440.0,534.7 L440.2,529.3 L440.5,531.5 L440.7,522.6 L440.9,518.5 L441.2,514.7 L441.4,506.3 L441.7,504.5 L441.9,498.5 L442.1,492.1 L442.4,487.4 L442.6,483.0 L442.8,474.8 L443.1,476.5 L443.3,471.0 L443.5,470.3 L443.8,463.4 L444.0,458.9 L444.2,455.8 L444.5,456.2 L444.7,452.9 L444.9,447.9 L445.2,448.0 L445.4,444.4 L445.7,445.8 L445.9,440.5 L446.1,439.9 L446.4,439.8 L446.6,441.0 L446.8,439.5 L447.1,438.8 L447.3,438.6 L447.5,439.4 L447.8,440.0 L448.0,440.1 L448.2,439.2 L448.5,445.9 L448.7,446.3 L448.9,448.3 L449.2,448.8 L449.4,452.8 L449.7,451.2 L449.9,454.6 L450.1,458.0 L450.4,461.9 L450.6,463.6 L450.8,467.0 L451.1,470.4 L451.3,476.4 L451.5,477.6 L451.8,486.6 L452.0,484.7 L452.2,497.9 L452.5,498.3 L452.7,504.8 L452.9,504.4 L453.2,515.8 L453.4,511.3 L453.7,526.4 L453.9,520.4 L454.1,530.0 L454.4,536.3 L454.6,539.7 L454.8,538.2 L455.1,547.0 L455.3,564.4 L455.5,554.0 L455.8,561.5 L456.0,573.5 L456.2,565.8 L456.5,577.9 L456.7,573.8 L456.9,575.8 L457.2,582.2 L457.4,577.5 L457.7,587.5 L457.9,582.4 L458.1,587.2 L458.4,586.1 L458.6,576.5 L458.8,585.5 L459.1,592.2 L459.3,587.0 L459.5,590.4 L459.8,585.8 L460.0,584.7 L460.2,584.4 L460.5,583.6 L460.7,585.8 L460.9,579.5 L461.2,575.2 L461.4,581.6 L461.7,576.7 L461.9,573.9 L462.1,566.1 L462.4,564.0 L462.6,568.7 L462.8,561.7 L463.1,564.7 L463.3,558.1 L463.5,549.8 L463.8,543.0 L464.0,537.3 L464.2,536.8 L464.5,535.3 L464.7,524.4 L464.9,521.0 L465.2,514.1 L465.4,509.8 L465.7,503.2 L465.9,498.4 L466.1,493.0 L466.4,491.3 L466.6,483.2 L466.8,481.9 L467.1,476.2 L467.3,468.3 L467.5,467.2 L467.8,466.2 L468.0,457.4 L468.2,454.8 L468.5,451.2 L468.7,449.7 L468.9,446.5 L469.2,444.7 L469.4,442.9 L469.7,437.1 L469.9,437.9 L470.1,436.2 L470.4,434.5 L470.6,429.7 L470.8,430.0 L471.1,430.8 L471.3,429.6 L471.5,428.3 L471.8,427.5 L472.0,431.1 L472.2,427.7 L472.5,429.7 L472.7,431.0 L472.9,431.5 L473.2,430.8 L473.4,430.7 L473.7,434.5 L473.9,435.6 L474.1,439.7 L474.4,439.7 L474.6,441.5 L474.8,447.8 L475.1,448.8 L475.3,449.3 L475.5,456.8 L475.8,457.3 L476.0,458.7 L476.2,466.4 L476.5,467.1 L476.7,469.6 L477.0,471.3 L477.2,479.4 L477.4,477.7 L477.7,482.8 L477.9,484.1 L478.1,487.5 L478.4,492.6 L478.6,495.4 L478.8,504.4 L479.1,506.5 L479.3,508.5 L479.5,509.6 L479.8,508.9 L480.0,519.6 L480.2,517.9 L480.5,523.8 L480.7,527.3 L481.0,520.5 L481.2,527.3 L481.4,525.2 L481.7,529.2 L481.9,539.0 L482.1,545.4 L482.4,534.3 L482.6,545.6 L482.8,551.4 L483.1,547.1 L483.3,552.0 L483.5,558.1 L483.8,559.5 L484.0,560.1 L484.2,563.0 L484.5,562.5 L484.7,569.6 L485.0,571.6 L485.2,569.2 L485.4,572.1 L485.7,569.9 L485.9,577.1 L486.1,577.1 L486.4,582.8 L486.6,570.1 L486.8,583.6 L487.1,574.8 L487.3,578.9 L487.5,571.4 L487.8,567.5 L488.0,576.2 L488.2,566.4 L488.5,570.2 L488.7,553.0 L489.0,556.4 L489.2,556.7 L489.4,548.4 L489.7,536.5 L489.9,531.1 L490.1,526.8 L490.4,528.2 L490.6,520.9 L490.8,510.5 L491.1,511.9 L491.3,505.4 L491.5,501.8 L491.8,497.0 L492.0,486.3 L492.2,482.7 L492.5,478.3 L492.7,473.4 L493.0,468.1 L493.2,462.9 L493.4,461.6 L493.7,458.3 L493.9,455.7 L494.1,448.4 L494.4,447.7 L494.6,446.2 L494.8,441.1 L495.1,437.9 L495.3,434.2 L495.5,431.6 L495.8,432.1 L496.0,430.3 L496.2,428.0 L496.5,427.8 L496.7,425.1 L497.0,423.3 L497.2,423.2 L497.4,425.0 L497.7,424.2 L497.9,420.7 L498.1,424.1 L498.4,422.1 L498.6,422.9 L498.8,425.2 L499.1,427.3 L499.3,426.9 L499.5,430.1 L499.8,430.9 L500.0,432.5 L500.2,436.0 L500.5,437.7 L500.7,440.6 L501.0,445.0 L501.2,446.4 L501.4,450.5 L501.7,456.2 L501.9,457.2 L502.1,461.0 L502.4,465.6 L502.6,472.9 L502.8,471.3 L503.1,475.8 L503.3,480.3 L503.5,485.4 L503.8,493.7 L504.0,494.8 L504.2,501.9 L504.5,498.1 L504.7,509.1 L505.0,509.6 L505.2,519.6 L505.4,521.7 L505.7,522.5 L505.9,521.1 L506.1,523.5 L506.4,525.9 L506.6,534.3 L506.8,525.4 L507.1,532.8 L507.3,525.0 L507.5,524.6 L507.8,528.0 L508.0,527.6 L508.2,535.3 L508.5,523.3 L508.7,530.9 L509.0,528.9 L509.2,535.8 L509.4,534.0 L509.7,539.0 L509.9,536.9 L510.1,537.5 L510.4,538.3 L510.6,536.3 L510.8,541.4 L511.1,544.3 L511.3,547.3 L511.5,542.4 L511.8,554.2 L512.0,549.5 L512.2,564.7 L512.5,561.8 L512.7,558.0 L513.0,561.7 L513.2,551.8 L513.4,552.4 L513.7,569.4 L513.9,566.9 L514.1,561.8 L514.4,552.8 L514.6,553.2 L514.8,553.9 L515.1,558.0 L515.3,552.1 L515.5,554.2 L515.8,546.6 L516.0,535.0 L516.2,529.2 L516.5,531.2 L516.7,521.6 L517.0,512.3 L517.2,511.3 L517.4,507.5 L517.7,500.0 L517.9,495.2 L518.1,491.3 L518.4,487.8 L518.6,482.7 L518.8,476.9 L519.1,473.6 L519.3,465.5 L519.5,462.1 L519.8,457.7 L520.0,452.2 L520.2,449.3 L520.5,446.0 L520.7,444.3 L521.0,442.0 L521.2,435.2 L521.4,436.9 L521.7,434.2 L521.9,432.1 L522.1,428.2 L522.4,425.9 L522.6,423.3 L522.8,423.4 L523.1,424.1 L523.3,420.1 L523.5,418.3 L523.8,418.7 L524.0,418.4 L524.2,417.2 L524.5,415.9 L524.7,418.0 L525.0,420.1 L525.2,419.5 L525.4,419.7 L525.7,422.9 L525.9,420.5 L526.1,424.0 L526.4,423.8 L526.6,426.0 L526.8,428.7 L527.1,428.1 L527.3,433.7 L527.5,436.5 L527.8,437.8 L528.0,439.9 L528.2,444.5 L528.5,449.5 L528.7,450.2 L529.0,454.1 L529.2,455.3 L529.4,463.5 L529.7,466.9 L529.9,472.8 L530.1,479.3 L530.4,480.4 L530.6,483.3 L530.8,492.2 L531.1,496.1 L531.3,502.1 L531.5,500.1 L531.8,509.7 L532.0,510.5 L532.2,518.7 L532.5,519.5 L532.7,524.9 L533.0,533.6 L533.2,528.0 L533.4,528.4 L533.7,538.9 L533.9,533.0 L534.1,534.3 L534.4,536.6 L534.6,533.3 L534.8,538.6 L535.1,530.0 L535.3,525.9 L535.5,532.6 L535.8,527.2 L536.0,521.4 L536.2,524.1 L536.5,524.9 L536.7,525.1 L537.0,520.8 L537.2,521.1 L537.4,518.3 L537.7,524.8 L537.9,516.8 L538.1,521.5 L538.4,518.9 L538.6,523.9 L538.8,526.8 L539.1,525.8 L539.3,528.6 L539.5,528.5 L539.8,527.3 L540.0,528.1 L540.2,533.3 L540.5,538.5 L540.7,541.0 L541.0,540.1 L541.2,541.0 L541.4,549.3 L541.7,551.6 L541.9,557.1 L542.1,556.0 L542.4,555.7 L542.6,572.9 L542.8,563.5 L543.1,569.2 L543.3,579.9 L543.5,568.8 L543.8,572.0 L544.0,570.9 L544.2,580.1 L544.5,564.5 L544.7,573.5 L545.0,575.6 L545.2,567.0 L545.4,570.4 L545.7,569.1 L545.9,567.0 L546.1,581.7 L546.4,563.3 L546.6,571.1 L546.8,567.3 L547.1,563.7 L547.3,570.0 L547.5,564.5 L547.8,561.8 L548.0,564.4 L548.2,561.4 L548.5,570.2 L548.7,567.7 L549.0,567.0 L549.2,560.1 L549.4,551.3 L549.7,560.2 L549.9,562.0 L550.1,561.8 L550.4,557.7 L550.6,559.1 L550.8,567.7 L551.1,558.9 L551.3,563.9 L551.5,561.1 L551.8,574.9 L552.0,573.7 L552.2,564.8 L552.5,577.1 L552.7,567.8 L553.0,569.2 L553.2,571.2 L553.4,571.5 L553.7,573.1 L553.9,573.4 L554.1,578.7 L554.4,577.9 L554.6,567.4 L554.8,574.6 L555.1,578.0 L555.3,580.0 L555.5,586.5 L555.8,582.3 L556.0,585.4 L556.2,580.0 L556.5,590.0 L556.7,598.6 L557.0,588.6 L557.2,582.2 L557.4,574.1 L557.7,580.4 L557.9,590.3 L558.1,585.7 L558.4,589.0 L558.6,584.1 L558.8,586.9 L559.1,590.0 L559.3,577.8 L559.5,577.7 L559.8,578.0 L560.0,573.9 L560.2,564.9 L560.5,571.4 L560.7,571.7 L561.0,564.2 L561.2,573.5 L561.4,560.5 L561.7,564.8 L561.9,562.6 L562.1,556.4 L562.4,548.2 L562.6,555.3 L562.8,546.5 L563.1,546.4 L563.3,551.1 L563.5,540.3 L563.8,544.6 L564.0,545.0 L564.2,540.5 L564.5,538.5 L564.7,532.3 L565.0,535.2 L565.2,526.6 L565.4,529.3 L565.7,531.3 L565.9,530.6 L566.1,526.3 L566.4,533.1 L566.6,533.0 L566.8,528.1 L567.1,523.0 L567.3,524.2 L567.5,524.7 L567.8,525.6 L568.0,532.6 L568.2,526.8 L568.5,532.3 L568.7,524.5 L569.0,528.0 L569.2,529.3 L569.4,528.8 L569.7,530.4 L569.9,532.1 L570.1,533.2 L570.4,538.1 L570.6,542.6 L570.8,538.4 L571.1,536.5 L571.3,539.9 L571.5,546.3 L571.8,545.3 L572.0,551.5 L572.2,550.4 L572.5,556.5 L572.7,555.7 L573.0,550.6 L573.2,557.4 L573.4,556.5 L573.7,568.1 L573.9,569.7 L574.1,568.7 L574.4,567.8 L574.6,572.9 L574.8,569.0 L575.1,577.7 L575.3,570.2 L575.5,573.2 L575.8,584.5 L576.0,577.1 L576.2,581.9 L576.5,576.8 L576.7,585.2 L577.0,581.5 L577.2,580.9 L577.4,597.1 L577.7,595.0 L577.9,584.3 L578.1,586.0 L578.4,580.6 L578.6,584.8 L578.8,593.1 L579.1,584.7 L579.3,590.6 L579.5,587.9 L579.8,589.6 L580.0,585.3 L580.2,595.1 L580.5,593.5 L580.7,600.4 L581.0,577.4 L581.2,593.3 L581.4,592.8 L581.7,594.6 L581.9,591.9 L582.1,591.0 L582.4,585.7 L582.6,588.1 L582.8,587.6 L583.1,592.8 L583.3,590.2 L583.5,583.8 L583.8,590.4 L584.0,588.9 L584.2,602.7 L584.5,588.2 L584.7,589.8 L585.0,584.8 L585.2,605.5 L585.4,591.6 L585.7,592.6 L585.9,591.7 L586.1,595.8 L586.4,591.2 L586.6,588.7 L586.8,592.1 L587.1,593.9 L587.3,593.3 L587.5,594.0 L587.8,591.3 L588.0,595.1 L588.2,602.2 L588.5,582.9 L588.7,598.9 L589.0,588.3 L589.2,593.4 L589.4,586.0 L589.7,587.6 L589.9,580.5 L590.1,581.9 L590.4,581.2 L590.6,570.0 L590.8,562.1 L591.1,562.3 L591.3,559.0 L591.5,559.2 L591.8,550.3 L592.0,543.3 L592.3,542.1 L592.5,531.4 L592.7,529.1 L593.0,522.4 L593.2,519.6 L593.4,514.1 L593.7,506.8 L593.9,501.2 L594.1,496.2 L594.4,494.6 L594.6,489.1 L594.8,482.8 L595.1,482.5 L595.3,472.0 L595.5,469.6 L595.8,466.4 L596.0,464.4 L596.3,458.3 L596.5,457.3 L596.7,450.8 L597.0,451.0 L597.2,452.0 L597.4,446.3 L597.7,446.7 L597.9,445.3 L598.1,443.7 L598.4,442.6 L598.6,441.4 L598.8,440.2 L599.1,440.6 L599.3,442.6 L599.5,444.0 L599.8,443.7 L600.0,442.6 L600.3,442.8 L600.5,442.5 L600.7,449.0 L601.0,448.0 L601.2,450.1 L601.4,452.0 L601.7,452.7 L601.9,455.0 L602.1,456.5 L602.4,458.6 L602.6,457.9 L602.8,457.6 L603.1,457.1 L603.3,461.3 L603.5,462.2 L603.8,460.1 L604.0,460.2 L604.3,455.3 L604.5,456.8 L604.7,452.9 L605.0,452.8 L605.2,448.1 L605.4,444.0 L605.7,438.6 L605.9,438.5 L606.1,433.3 L606.4,433.3 L606.6,428.3 L606.8,424.0 L607.1,420.0 L607.3,415.2 L607.5,411.6 L607.8,411.2 L608.0,405.4 L608.3,404.4 L608.5,398.2 L608.7,397.3 L609.0,395.0 L609.2,393.1 L609.4,390.9 L609.7,389.0 L609.9,388.0 L610.1,385.1 L610.4,384.3 L610.6,382.7 L610.8,382.7 L611.1,381.3 L611.3,382.3 L611.5,378.7 L611.8,382.0 L612.0,381.9 L612.3,380.9 L612.5,381.2 L612.7,384.0 L613.0,385.9 L613.2,386.9 L613.4,387.9 L613.7,389.4 L613.9,390.5 L614.1,391.3 L614.4,393.5 L614.6,397.8 L614.8,399.2 L615.1,401.6 L615.3,404.1 L615.5,409.2 L615.8,413.4 L616.0,415.1 L616.3,418.0 L616.5,424.7 L616.7,425.5 L617.0,430.1 L617.2,437.6 L617.4,444.5 L617.7,447.8 L617.9,452.5 L618.1,456.1 L618.4,465.6 L618.6,463.2 L618.8,468.7 L619.1,480.6 L619.3,489.1 L619.5,490.9 L619.8,495.3 L620.0,498.7 L620.3,505.9 L620.5,514.1 L620.7,525.4 L621.0,523.0 L621.2,527.1 L621.4,536.0 L621.7,538.7 L621.9,543.5 L622.1,549.4 L622.4,557.0 L622.6,554.4 L622.8,565.2 L623.1,556.1 L623.3,568.3 L623.5,564.3 L623.8,571.7 L624.0,568.2 L624.3,572.3 L624.5,570.2 L624.7,577.5 L625.0,582.8 L625.2,576.8 L625.4,577.9 L625.7,584.6 L625.9,580.9 L626.1,586.8 L626.4,578.0 L626.6,580.9 L626.8,579.4 L627.1,568.2 L627.3,579.4 L627.5,578.6 L627.8,577.6 L628.0,581.4 L628.3,583.7 L628.5,576.3 L628.7,575.2 L629.0,591.7 L629.2,579.7 L629.4,579.6 L629.7,579.5 L629.9,569.7 L630.1,576.1 L630.4,567.7 L630.6,571.7 L630.8,568.4 L631.1,560.6 L631.3,563.6 L631.5,557.5 L631.8,557.6 L632.0,552.5 L632.3,542.1 L632.5,538.2 L632.7,539.7 L633.0,534.9 L633.2,518.3 L633.4,522.9 L633.7,518.5 L633.9,509.4 L634.1,507.9 L634.4,501.7 L634.6,493.5 L634.8,488.4 L635.1,486.3 L635.3,478.1 L635.5,476.5 L635.8,472.1 L636.0,467.1 L636.3,463.2 L636.5,457.4 L636.7,453.7 L637.0,451.6 L637.2,446.1 L637.4,443.6 L637.7,440.0 L637.9,436.0 L638.1,431.0 L638.4,429.1 L638.6,424.8 L638.8,421.7 L639.1,421.3 L639.3,419.7 L639.5,417.8 L639.8,414.3 L640.0,411.8 L640.3,409.2 L640.5,411.3 L640.7,407.3 L641.0,406.0 L641.2,403.4 L641.4,405.3 L641.7,405.0 L641.9,406.4 L642.1,405.2 L642.4,405.6 L642.6,405.6 L642.8,405.8 L643.1,407.1 L643.3,406.1 L643.5,406.4 L643.8,407.0 L644.0,409.2 L644.3,409.2 L644.5,410.8 L644.7,415.9 L645.0,416.2 L645.2,419.6 L645.4,421.6 L645.7,422.5 L645.9,425.6 L646.1,426.1 L646.4,428.3 L646.6,433.7 L646.8,438.0 L647.1,441.4 L647.3,444.8 L647.5,447.6 L647.8,453.8 L648.0,455.5 L648.3,461.2 L648.5,463.1 L648.7,466.9 L649.0,470.6 L649.2,479.2 L649.4,486.8 L649.7,492.6 L649.9,494.1 L650.1,502.1 L650.4,507.9 L650.6,509.4 L650.8,516.4 L651.1,516.4 L651.3,517.7 L651.5,529.0 L651.8,532.0 L652.0,543.5 L652.3,541.5 L652.5,549.1 L652.7,554.9 L653.0,562.3 L653.2,551.6 L653.4,568.3 L653.7,569.5 L653.9,566.6 L654.1,567.7 L654.4,569.6 L654.6,572.1 L654.8,578.3 L655.1,571.4 L655.3,574.8 L655.5,583.5 L655.8,569.1 L656.0,577.9 L656.3,571.6 L656.5,582.8 L656.7,580.6 L657.0,576.5 L657.2,575.9 L657.4,566.8 L657.7,577.6 L657.9,567.4 L658.1,571.0 L658.4,562.3 L658.6,561.6 L658.8,562.8 L659.1,549.7 L659.3,556.2 L659.5,549.6 L659.8,556.9 L660.0,549.6 L660.3,546.4 L660.5,543.9 L660.7,543.3 L661.0,542.8 L661.2,545.9 L661.4,537.2 L661.7,536.2 L661.9,531.8 L662.1,526.2 L662.4,520.2 L662.6,523.4 L662.8,520.2 L663.1,519.7 L663.3,517.9 L663.5,516.8 L663.8,518.0 L664.0,517.0 L664.3,513.9 L664.5,508.9 L664.7,510.9 L665.0,507.9 L665.2,515.5 L665.4,510.5 L665.7,509.8 L665.9,509.3 L666.1,514.7 L666.4,516.2 L666.6,517.3 L666.8,512.5 L667.1,505.5 L667.3,511.9 L667.5,516.8 L667.8,513.1 L668.0,516.0 L668.3,515.7 L668.5,518.8 L668.7,522.9 L669.0,522.0 L669.2,519.7 L669.4,522.6 L669.7,521.6 L669.9,530.8 L670.1,525.9 L670.4,531.0 L670.6,532.6 L670.8,531.3 L671.1,538.1 L671.3,538.9 L671.5,539.8 L671.8,542.0 L672.0,543.6 L672.3,544.1 L672.5,549.0 L672.7,555.0 L673.0,546.1 L673.2,557.4 L673.4,557.7 L673.7,564.2 L673.9,572.8 L674.1,567.7 L674.4,565.3 L674.6,564.5 L674.8,567.7 L675.1,565.1 L675.3,564.9 L675.5,565.3 L675.8,569.7 L676.0,569.3 L676.3,570.3 L676.5,572.8 L676.7,561.9 L677.0,572.7 L677.2,566.0 L677.4,563.1 L677.7,572.2 L677.9,557.4 L678.1,559.7 L678.4,555.0 L678.6,554.7 L678.8,556.9 L679.1,547.1 L679.3,544.5 L679.5,538.3 L679.8,537.0 L680.0,541.4 L680.3,528.5 L680.5,526.2 L680.7,523.0 L681.0,520.6 L681.2,520.8 L681.4,513.9 L681.7,513.1 L681.9,502.2 L682.1,506.3 L682.4,505.5 L682.6,500.4 L682.8,493.1 L683.1,495.1 L683.3,496.8 L683.5,484.9 L683.8,484.9 L684.0,484.3 L684.3,479.3 L684.5,480.7 L684.7,479.1 L685.0,472.6 L685.2,473.8 L685.4,470.0 L685.7,469.4 L685.9,466.4 L686.1,466.5 L686.4,469.6 L686.6,463.2 L686.8,464.5 L687.1,461.1 L687.3,462.0 L687.5,459.1 L687.8,462.0 L688.0,465.2 L688.3,461.7 L688.5,460.2 L688.7,462.1 L689.0,462.7 L689.2,459.5 L689.4,463.2 L689.7,461.7 L689.9,464.3 L690.1,468.5 L690.4,468.6 L690.6,468.6 L690.8,468.8 L691.1,472.5 L691.3,475.5 L691.5,476.3 L691.8,477.1 L692.0,479.8 L692.3,481.1 L692.5,477.8 L692.7,483.2 L693.0,487.8 L693.2,488.0 L693.4,486.5 L693.7,490.6 L693.9,494.4 L694.1,499.6 L694.4,502.5 L694.6,500.6 L694.8,501.6 L695.1,507.2 L695.3,507.7 L695.5,505.2 L695.8,512.1 L696.0,511.2 L696.3,506.8 L696.5,505.2 L696.7,505.6 L697.0,503.3 L697.2,501.1 L697.4,501.8 L697.7,503.6 L697.9,496.1 L698.1,495.6 L698.4,495.7 L698.6,498.1 L698.8,493.1 L699.1,497.2 L699.3,490.5 L699.5,493.2 L699.8,486.2 L700.0,480.7 L700.3,480.7 L700.5,475.1 L700.7,476.4 L701.0,474.0 L701.2,472.8 L701.4,469.1 L701.7,468.4 L701.9,464.2 L702.1,461.8 L702.4,462.5 L702.6,463.8 L702.8,459.2 L703.1,456.6 L703.3,456.7 L703.5,456.3 L703.8,454.2 L704.0,452.7 L704.3,458.7 L704.5,451.2 L704.7,452.1 L705.0,452.3 L705.2,453.9 L705.4,452.5 L705.7,451.9 L705.9,455.9 L706.1,452.2 L706.4,453.9 L706.6,452.1 L706.8,454.1 L707.1,456.5 L707.3,457.1 L707.5,457.1 L707.8,459.3 L708.0,459.9 L708.3,463.7 L708.5,466.4 L708.7,466.8 L709.0,470.4 L709.2,471.0 L709.4,470.8 L709.7,477.2 L709.9,478.6 L710.1,476.8 L710.4,482.0 L710.6,483.4 L710.8,489.0 L711.1,491.3 L711.3,492.4 L711.6,490.7 L711.8,496.4 L712.0,505.0 L712.3,502.4 L712.5,504.3 L712.7,508.0 L713.0,516.6 L713.2,516.4 L713.4,513.3 L713.7,525.5 L713.9,524.6 L714.1,531.3 L714.4,536.2 L714.6,536.3 L714.8,534.3 L715.1,536.6 L715.3,546.6 L715.6,547.7 L715.8,551.9 L716.0,559.4 L716.3,550.7 L716.5,549.2 L716.7,551.3 L717.0,560.9 L717.2,555.3 L717.4,557.7 L717.7,565.0 L717.9,564.8 L718.1,567.6 L718.4,566.0 L718.6,560.4 L718.8,573.1 L719.1,575.2 L719.3,566.3 L719.6,570.5 L719.8,580.6 L720.0,576.6 L720.3,576.1 L720.5,575.4 L720.7,571.4 L721.0,568.7 L721.2,574.2 L721.4,573.0 L721.7,577.6 L721.9,569.6 L722.1,568.5 L722.4,575.9 L722.6,578.5 L722.8,566.1 L723.1,571.1 L723.3,579.9 L723.6,584.4 L723.8,577.4 L724.0,570.8 L724.3,579.1 L724.5,577.9 L724.7,579.4 L725.0,574.2 L725.2,571.1 L725.4,584.1 L725.7,579.4 L725.9,579.2 L726.1,581.6 L726.4,584.8 L726.6,575.1 L726.8,578.4 L727.1,576.0 L727.3,572.7 L727.6,581.7 L727.8,577.5 L728.0,582.3 L728.3,581.0 L728.5,579.1 L728.7,581.8 L729.0,589.1 L729.2,574.2 L729.4,580.7 L729.7,587.6 L729.9,593.9 L730.1,585.1 L730.4,581.9 L730.6,580.3 L730.8,580.0 L731.1,587.5 L731.3,582.4 L731.6,594.3 L731.8,585.1 L732.0,581.4 L732.3,589.2 L732.5,586.9 L732.7,585.6 L733.0,585.4 L733.2,578.9 L733.4,591.9 L733.7,579.5 L733.9,592.8 L734.1,589.4 L734.4,590.0 L734.6,586.2 L734.8,588.3 L735.1,583.1 L735.3,585.4 L735.6,575.0 L735.8,583.2 L736.0,586.2 L736.3,582.8 L736.5,581.5 L736.7,585.2 L737.0,590.0 L737.2,588.0 L737.4,582.7 L737.7,579.3 L737.9,580.8 L738.1,583.4 L738.4,579.9 L738.6,585.0 L738.8,581.0 L739.1,575.3 L739.3,576.5 L739.6,575.2 L739.8,583.2 L740.0,580.1 L740.3,586.1 L740.5,576.3 L740.7,582.6 L741.0,587.2 L741.2,582.6 L741.4,578.7 L741.7,591.6 L741.9,586.8 L742.1,574.7 L742.4,578.7 L742.6,579.2 L742.8,587.1 L743.1,571.3 L743.3,573.6 L743.6,574.9 L743.8,583.7 L744.0,575.1 L744.3,572.4 L744.5,579.1 L744.7,578.6 L745.0,579.5 L745.2,574.2 L745.4,578.0 L745.7,578.3 L745.9,583.9 L746.1,584.9 L746.4,572.0 L746.6,569.0 L746.8,572.0 L747.1,569.4 L747.3,578.3 L747.6,575.8 L747.8,573.6 L748.0,576.0 L748.3,567.7 L748.5,581.5 L748.7,577.6 L749.0,576.3 L749.2,577.9 L749.4,570.5 L749.7,584.4 L749.9,569.0 L750.1,569.9 L750.4,572.4 L750.6,567.5 L750.8,563.5 L751.1,572.6 L751.3,570.0 L751.6,571.3 L751.8,570.6 L752.0,575.2 L752.3,576.1 L752.5,569.8 L752.7,574.9 L753.0,568.2 L753.2,568.6 L753.4,574.1 L753.7,570.3 L753.9,571.4 L754.1,572.3 L754.4,566.6 L754.6,571.2 L754.8,570.2 L755.1,580.7 L755.3,568.4 L755.6,577.8 L755.8,572.5 L756.0,563.7 L756.3,562.9 L756.5,572.1 L756.7,576.1 L757.0,568.2 L757.2,571.7 L757.4,568.2 L757.7,575.9 L757.9,564.5 L758.1,562.5 L758.4,575.7 L758.6,572.1 L758.8,571.4 L759.1,564.7 L759.3,576.9 L759.6,566.1 L759.8,567.5 L760.0,569.5 L760.3,562.3 L760.5,573.6 L760.7,569.9 L761.0,566.3 L761.2,558.9 L761.4,562.2 L761.7,563.0 L761.9,556.2 L762.1,558.6 L762.4,557.6 L762.6,554.3 L762.8,549.8 L763.1,540.1 L763.3,550.8 L763.6,543.0 L763.8,541.9 L764.0,539.3 L764.3,530.4 L764.5,529.6 L764.7,526.6 L765.0,526.6 L765.2,524.1 L765.4,516.9 L765.7,514.7 L765.9,511.5 L766.1,504.0 L766.4,504.9 L766.6,499.4 L766.8,491.5 L767.1,489.3 L767.3,483.5 L767.6,482.7 L767.8,475.2 L768.0,474.0 L768.3,465.8 L768.5,463.0 L768.7,459.7 L769.0,454.0 L769.2,452.3 L769.4,450.3 L769.7,443.2 L769.9,441.6 L770.1,437.0 L770.4,435.4 L770.6,430.8 L770.8,430.7 L771.1,428.4 L771.3,425.8 L771.6,420.2 L771.8,421.5 L772.0,418.8 L772.3,416.1 L772.5,411.9 L772.7,409.8 L773.0,409.5 L773.2,406.0 L773.4,405.1 L773.7,402.7 L773.9,401.9 L774.1,402.7 L774.4,400.8 L774.6,400.5 L774.8,399.2 L775.1,399.1 L775.3,399.0 L775.6,398.1 L775.8,398.9 L776.0,398.3 L776.3,399.4 L776.5,400.1 L776.7,399.5 L777.0,400.2 L777.2,400.8 L777.4,402.6 L777.7,404.8 L777.9,405.7 L778.1,407.2 L778.4,411.2 L778.6,412.2 L778.8,410.9 L779.1,414.9 L779.3,420.3 L779.6,419.5 L779.8,421.6 L780.0,426.1 L780.3,424.0 L780.5,428.3 L780.7,431.7 L781.0,436.2 L781.2,438.3 L781.4,441.0 L781.7,444.9 L781.9,450.2 L782.1,452.3 L782.4,455.9 L782.6,459.2 L782.8,465.5 L783.1,466.6 L783.3,470.9 L783.6,474.1 L783.8,477.9 L784.0,485.3 L784.3,483.8 L784.5,487.6 L784.7,496.3 L785.0,496.7 L785.2,502.0 L785.4,504.3 L785.7,503.6 L785.9,507.8 L786.1,506.8 L786.4,514.6 L786.6,520.8 L786.8,519.4 L787.1,529.9 L787.3,518.7 L787.6,525.0 L787.8,526.1 L788.0,528.5 L788.3,533.2 L788.5,531.9 L788.7,535.1 L789.0,535.1 L789.2,533.0 L789.4,538.9 L789.7,529.8 L789.9,539.3 L790.1,533.1 L790.4,538.3 L790.6,540.5 L790.8,534.7 L791.1,535.2 L791.3,536.4 L791.6,535.5 L791.8,537.2 L792.0,533.2 L792.3,535.9 L792.5,533.8 L792.7,529.8 L793.0,537.5 L793.2,534.4 L793.4,534.2 L793.7,534.1 L793.9,535.4 L794.1,531.1 L794.4,529.2 L794.6,529.4 L794.8,533.8 L795.1,525.6 L795.3,524.9 L795.6,526.2 L795.8,529.0 L796.0,527.8 L796.3,518.6 L796.5,518.5 L796.7,521.5 L797.0,525.1 L797.2,517.7 L797.4,520.2 L797.7,515.1 L797.9,520.9 L798.1,517.1 L798.4,518.3 L798.6,514.7 L798.8,518.0 L799.1,512.8 L799.3,515.7 L799.6,516.4 L799.8,511.5 L800.0,511.6 L800.3,517.8 L800.5,510.9 L800.7,509.7 L801.0,508.7 L801.2,503.1 L801.4,509.5 L801.7,507.1 L801.9,511.1 L802.1,509.7 L802.4,506.5 L802.6,504.7 L802.8,504.2 L803.1,501.5 L803.3,500.6 L803.6,499.4 L803.8,501.8 L804.0,499.6 L804.3,502.3 L804.5,499.0 L804.7,498.3 L805.0,500.4 L805.2,504.8 L805.4,500.0 L805.7,491.8 L805.9,497.9 L806.1,499.0 L806.4,496.8 L806.6,494.1 L806.8,495.7 L807.1,496.8 L807.3,499.4 L807.6,496.7 L807.8,498.8 L808.0,494.8 L808.3,491.9 L808.5,492.8 L808.7,496.7 L809.0,497.6 L809.2,498.6 L809.4,493.8 L809.7,493.4 L809.9,492.7 L810.1,493.7 L810.4,497.5 L810.6,499.2 L810.8,491.5 L811.1,496.1 L811.3,489.5 L811.6,499.2 L811.8,496.4 L812.0,495.8 L812.3,492.7 L812.5,491.6 L812.7,494.4 L813.0,491.4 L813.2,495.9 L813.4,493.7 L813.7,495.2 L813.9,493.4 L814.1,493.4 L814.4,490.8 L814.6,485.3 L814.8,494.4 L815.1,491.2 L815.3,488.9 L815.6,490.0 L815.8,486.6 L816.0,492.0 L816.3,487.4 L816.5,490.7 L816.7,486.6 L817.0,487.8 L817.2,487.2 L817.4,488.8 L817.7,491.5 L817.9,489.2 L818.1,484.6 L818.4,486.4 L818.6,483.8 L818.8,488.1 L819.1,483.2 L819.3,481.9 L819.6,488.9 L819.8,482.6 L820.0,478.7 L820.3,484.1 L820.5,479.7 L820.7,481.3 L821.0,479.1 L821.2,481.3 L821.4,481.7 L821.7,480.4 L821.9,479.8 L822.1,479.8 L822.4,479.9 L822.6,475.1 L822.8,478.2 L823.1,479.1 L823.3,478.0 L823.6,474.4 L823.8,479.8 L824.0,473.4 L824.3,472.4 L824.5,470.8 L824.7,473.8 L825.0,474.1 L825.2,471.5 L825.4,471.0 L825.7,468.2 L825.9,470.2 L826.1,470.6 L826.4,472.0 L826.6,469.1 L826.8,468.1 L827.1,465.4 L827.3,467.0 L827.6,464.1 L827.8,463.7 L828.0,467.1 L828.3,467.3 L828.5,465.8 L828.7,464.5 L829.0,465.1 L829.2,461.7 L829.4,461.2 L829.7,459.7 L829.9,460.9 L830.1,461.7 L830.4,459.6 L830.6,461.5 L830.9,458.8 L831.1,459.8 L831.3,455.7 L831.6,461.4 L831.8,454.9 L832.0,454.1 L832.3,455.1 L832.5,453.8 L832.7,453.3 L833.0,450.8 L833.2,449.5 L833.4,451.6 L833.7,448.2 L833.9,451.4 L834.1,448.9 L834.4,448.2 L834.6,450.4 L834.9,447.0 L835.1,448.0 L835.3,444.9 L835.6,447.0 L835.8,447.9 L836.0,446.3 L836.3,443.5 L836.5,442.3 L836.7,441.6 L837.0,442.7 L837.2,439.5 L837.4,440.9 L837.7,439.7 L837.9,437.2 L838.1,438.2 L838.4,440.3 L838.6,435.5 L838.9,435.9 L839.1,435.8 L839.3,432.6 L839.6,434.8 L839.8,432.1 L840.0,432.2 L840.3,428.0 L840.5,433.7 L840.7,430.0 L841.0,429.0 L841.2,427.3 L841.4,428.7 L841.7,428.3 L841.9,424.7 L842.1,426.5 L842.4,424.8 L842.6,424.6 L842.9,423.2 L843.1,424.9 L843.3,423.0 L843.6,421.6 L843.8,420.6 L844.0,418.5 L844.3,418.5 L844.5,417.7 L844.7,417.7 L845.0,415.2 L845.2,416.9 L845.4,415.4 L845.7,416.5 L845.9,415.1 L846.1,411.9 L846.4,412.3 L846.6,413.8 L846.9,410.7 L847.1,410.2 L847.3,410.5 L847.6,407.9 L847.8,407.9 L848.0,406.8 L848.3,404.9 L848.5,406.0 L848.7,403.2 L849.0,404.0 L849.2,403.3 L849.4,400.7 L849.7,401.0 L849.9,401.2 L850.1,400.1 L850.4,399.0 L850.6,400.2 L850.9,397.0 L851.1,397.1 L851.3,397.8 L851.6,396.7 L851.8,394.0 L852.0,395.7 L852.3,391.4 L852.5,394.4 L852.7,392.5 L853.0,394.7 L853.2,391.7 L853.4,391.7 L853.7,390.1 L853.9,389.9 L854.1,390.0 L854.4,387.0 L854.6,387.9 L854.9,389.0 L855.1,387.4 L855.3,389.7 L855.6,387.4 L855.8,385.1 L856.0,386.5 L856.3,385.4 L856.5,386.4 L856.7,384.1 L857.0,384.5 L857.2,384.3 L857.4,383.0 L857.7,382.0 L857.9,382.5 L858.1,384.8 L858.4,382.3 L858.6,382.1 L858.9,383.2 L859.1,383.4 L859.3,381.9 L859.6,381.4 L859.8,380.9 L860.0,381.2 L860.3,380.1 L860.5,379.6 L860.7,379.8 L861.0,378.9 L861.2,379.5 L861.4,379.6 L861.7,377.2 L861.9,375.5 L862.1,373.0 L862.4,376.6 L862.6,374.2 L862.9,373.7 L863.1,371.7 L863.3,371.9 L863.6,370.1 L863.8,368.4 L864.0,369.1 L864.3,367.6 L864.5,365.2 L864.7,365.0 L865.0,366.2 L865.2,362.2 L865.4,363.6 L865.7,361.9 L865.9,361.6 L866.1,360.7 L866.4,359.9 L866.6,357.9 L866.9,358.1 L867.1,357.5 L867.3,356.0 L867.6,354.6 L867.8,355.2 L868.0,352.1 L868.3,352.3 L868.5,350.2 L868.7,348.8 L869.0,348.6 L869.2,347.5 L869.4,347.3 L869.7,346.5 L869.9,346.4 L870.1,344.2 L870.4,343.5 L870.6,343.8 L870.9,341.0 L871.1,339.1 L871.3,339.0 L871.6,337.5 L871.8,337.5 L872.0,337.1 L872.3,335.4 L872.5,334.7 L872.7,334.2 L873.0,331.8 L873.2,331.3 L873.4,330.9 L873.7,329.3 L873.9,328.5 L874.1,327.1 L874.4,325.4 L874.6,325.8 L874.9,325.2 L875.1,322.6 L875.3,321.0 L875.6,321.8 L875.8,321.0 L876.0,320.1 L876.3,318.4 L876.5,317.4 L876.7,316.6 L877.0,314.9 L877.2,314.9 L877.4,313.8 L877.7,313.1 L877.9,310.6 L878.1,309.8 L878.4,308.7 L878.6,308.9 L878.9,306.7 L879.1,306.3 L879.3,305.0 L879.6,304.1 L879.8,303.6 L880.0,302.5 L880.3,302.2 L880.5,300.7 L880.7,299.5 L881.0,299.0 L881.2,297.3 L881.4,295.8 L881.7,295.7 L881.9,295.1 L882.1,294.2 L882.4,292.9 L882.6,291.3 L882.9,291.3 L883.1,290.5 L883.3,290.3 L883.6,288.8 L883.8,287.8 L884.0,287.5 L884.3,286.5 L884.5,285.9 L884.7,284.5 L885.0,283.4 L885.2,283.0 L885.4,282.1 L885.7,281.5 L885.9,281.0 L886.1,280.2 L886.4,279.3 L886.6,278.2 L886.9,277.5 L887.1,276.2 L887.3,275.5 L887.6,274.5 L887.8,274.2 L888.0,274.0 L888.3,273.3 L888.5,273.5" stroke="#000" stroke-width="1.65"/>
<path d="M176.70,512.50 L179.76,518.31 L182.82,522.36 L185.88,526.90 L188.94,530.88 L190.82,531.86 L193.64,530.75 L194.58,531.54 L197.64,540.96 L200.70,548.29 L203.76,551.75 L206.58,552.29 L208.00,550.85 L211.05,536.62 L213.64,522.01 L214.11,521.19 L214.58,521.18 L215.76,524.61 L218.82,545.62 L221.17,555.05 L224.23,557.47 L227.29,557.61 L228.70,556.12 L230.35,550.02 L233.41,517.78 L236.47,481.78 L237.88,474.72 L238.35,474.18 L238.82,474.59 L240.23,481.29 L243.29,516.93 L246.35,547.58 L249.41,555.59 L252.47,561.96 L255.53,566.49 L257.17,566.89 L258.35,565.53 L260.00,558.85 L263.06,528.68 L265.41,509.95 L266.12,508.34 L266.59,508.49 L267.76,513.03 L270.82,539.74 L272.00,545.03 L272.47,545.42 L274.35,543.29 L274.82,543.40 L276.00,546.71 L279.06,564.63 L280.00,566.68 L280.47,566.75 L283.06,563.61 L283.76,563.74 L286.82,571.50 L288.47,575.04 L289.18,575.34 L290.12,574.24 L292.00,565.29 L295.06,531.91 L298.12,504.72 L298.82,502.74 L299.29,502.49 L300.00,503.72 L303.06,526.78 L306.12,551.38 L309.18,564.40 L310.35,566.57 L311.06,566.55 L314.12,562.42 L314.82,562.51 L317.88,570.82 L320.94,582.21 L323.77,586.71 L325.18,586.98 L326.35,585.64 L328.00,578.93 L331.06,542.56 L334.12,501.51 L335.53,492.89 L336.00,491.97 L336.24,491.89 L336.71,492.48 L338.36,502.27 L341.41,544.12 L344.47,580.41 L345.88,585.75 L346.36,586.09 L347.06,585.29 L348.47,578.18 L351.53,534.12 L354.59,487.34 L356.00,477.70 L356.47,476.62 L356.71,476.50 L357.18,477.07 L358.59,485.29 L361.65,530.37 L364.71,577.07 L366.36,586.63 L367.06,587.73 L367.53,587.64 L368.47,585.40 L370.36,569.97 L373.42,515.42 L376.47,470.87 L377.65,464.31 L378.12,463.58 L378.59,463.95 L379.77,469.64 L382.83,512.58 L385.89,568.43 L387.77,585.23 L388.48,587.22 L388.95,587.44 L389.65,586.14 L391.30,574.38 L394.36,520.72 L397.42,469.09 L399.06,456.23 L399.77,454.61 L400.24,454.85 L401.42,460.06 L404.48,501.71 L407.53,561.50 L409.89,586.34 L410.83,589.08 L411.30,589.23 L412.01,587.99 L413.42,579.28 L416.48,527.87 L419.54,469.22 L421.89,446.03 L422.59,443.89 L422.83,443.68 L423.30,444.05 L424.48,449.41 L427.54,490.98 L430.59,554.15 L433.18,586.53 L434.36,590.83 L434.83,591.22 L435.30,590.93 L436.48,586.94 L439.54,546.89 L442.60,483.76 L445.65,444.21 L446.83,439.27 L447.30,438.99 L448.01,440.41 L450.36,460.62 L453.42,516.56 L456.48,574.07 L458.36,589.08 L459.07,590.63 L459.54,590.62 L460.48,588.13 L462.60,567.44 L465.66,505.39 L468.71,450.08 L470.83,431.26 L471.54,429.09 L472.01,428.78 L472.71,430.03 L475.77,456.64 L478.83,499.76 L481.89,535.85 L484.95,571.20 L486.13,578.28 L486.36,578.67 L486.60,578.66 L487.30,576.02 L490.36,525.73 L493.42,461.62 L496.48,426.11 L497.42,422.77 L497.89,422.49 L498.60,423.81 L500.72,440.09 L503.78,490.96 L506.36,528.60 L507.54,532.98 L508.95,535.34 L512.01,558.16 L513.19,565.96 L513.42,566.37 L513.66,566.26 L514.36,562.64 L517.42,507.08 L520.48,448.41 L523.31,420.54 L524.25,417.92 L524.72,417.88 L525.66,420.38 L528.72,451.40 L531.78,507.94 L533.42,530.19 L534.13,532.94 L534.36,532.94 L537.19,520.83 L537.66,520.16 L538.13,520.48 L539.31,525.86 L542.37,561.58 L544.25,577.40 L544.72,578.45 L544.95,578.56 L545.66,577.57 L548.72,566.98 L549.42,566.06 L550.13,566.22 L553.19,577.56 L556.01,590.03 L556.72,590.98 L557.19,590.89 L558.37,587.98 L561.42,564.58 L564.48,536.04 L566.60,525.74 L567.31,524.89 L567.78,525.08 L569.19,529.24 L572.25,553.42 L575.31,582.63 L578.37,597.09 L580.96,599.68 L584.01,599.73 L586.60,598.69 L588.01,595.89 L589.66,585.15 L592.72,528.93 L595.78,466.43 L598.13,443.19 L598.84,441.33 L599.07,441.22 L599.54,441.72 L602.60,458.47 L603.07,460.00 L603.31,460.25 L603.78,459.53 L606.84,422.79 L609.90,387.23 L611.07,381.90 L611.55,381.22 L612.02,381.37 L613.19,385.39 L616.25,419.89 L619.31,485.00 L622.37,557.61 L624.72,586.97 L626.13,592.05 L626.84,592.48 L627.78,591.33 L629.43,583.60 L632.49,540.39 L635.55,476.06 L638.61,426.45 L641.19,406.20 L642.13,404.23 L642.61,404.33 L643.78,407.79 L646.84,437.57 L649.90,493.27 L652.96,554.58 L654.84,575.27 L655.55,577.73 L655.78,577.94 L656.25,577.53 L659.31,556.45 L662.37,526.90 L664.96,512.30 L665.90,510.74 L666.37,510.78 L667.55,513.21 L670.61,533.40 L673.67,561.91 L675.31,570.66 L675.78,571.24 L676.25,570.82 L677.67,563.40 L680.72,525.58 L683.78,485.78 L686.84,463.64 L687.78,461.44 L688.25,461.19 L688.96,461.85 L692.02,477.93 L695.08,502.88 L696.02,506.49 L696.49,506.79 L697.20,505.25 L700.26,480.84 L703.31,457.94 L704.73,453.51 L705.43,452.99 L706.14,453.64 L708.26,462.48 L711.31,491.79 L714.37,532.19 L717.43,563.60 L720.49,575.48 L723.55,580.06 L726.61,584.44 L729.67,587.79 L732.73,589.26 L735.79,588.69 L738.85,586.47 L741.90,584.18 L744.96,581.88 L748.02,579.58 L751.08,577.28 L754.14,574.96 L757.20,572.40 L759.79,568.31 L762.14,557.79 L765.20,522.08 L768.26,468.76 L771.32,424.08 L774.38,401.22 L775.32,399.22 L775.79,399.12 L776.73,400.73 L779.79,422.04 L782.85,463.75 L785.91,509.72 L788.73,533.08 L790.38,536.85 L792.02,535.66 L795.08,529.26 L798.14,520.19 L801.20,510.06 L804.26,501.74 L807.32,497.41 L810.38,495.75 L813.44,493.68 L816.50,489.71 L819.56,484.19 L822.61,477.64 L825.67,470.85 L828.73,464.04 L831.79,456.39 L834.85,447.59 L837.91,438.69 L840.97,429.55 L844.03,419.96 L847.09,409.86 L850.15,399.97 L853.20,391.64 L856.26,385.53 L859.32,381.42 L861.20,378.85 L864.26,367.47 L867.32,355.49 L870.38,343.06 L873.44,330.42 L876.50,317.41 L879.56,304.39 L882.62,292.17 L885.68,281.54 L888.50,272.78" stroke="#ff0000" stroke-width="1.5"/>
<path d="M232.70,559.95 L235.76,560.99 L238.82,562.05 L241.88,563.10 L244.94,564.16 L248.00,565.22 L251.06,566.28 L254.12,567.33 L257.17,568.39 L258.82,568.93" stroke="#00f000" stroke-width="1.6"/>
<path d="M306.59,582.88 L309.65,583.67 L312.71,584.59 L315.77,585.52 L318.82,586.45 L321.88,587.37 L324.94,588.30 L328.00,588.78 L331.06,589.14 L334.12,589.50 L337.18,589.73 L340.24,589.91 L343.30,590.09 L344.94,590.19" stroke="#00f000" stroke-width="1.6"/>
<path d="M366.12,591.35 L369.18,591.52 L372.24,591.69 L372.95,591.73" stroke="#00f000" stroke-width="1.6"/>
<path d="M435.07,595.28 L438.12,595.36 L441.18,595.44 L444.24,595.51 L447.30,595.58 L450.36,595.66 L453.42,595.73 L456.48,595.80 L459.54,595.87 L462.60,595.95 L465.66,596.02 L468.71,596.09 L471.77,596.16 L474.83,596.24 L477.89,596.31 L480.95,596.38 L484.01,596.46 L487.07,596.53 L489.89,596.60" stroke="#00f000" stroke-width="1.6"/>
<path d="M176.70,514.52 L179.76,521.51 L182.82,526.16 L185.88,530.30 L188.94,533.67 L191.99,537.47 L195.05,541.44 L198.11,545.75 L201.17,549.59 L204.23,552.50 L207.29,553.52 L210.35,554.29 L213.41,555.15 L216.47,556.00 L219.53,556.86 L222.58,557.65 L225.64,558.38 L228.70,559.10 L231.76,559.83 L234.82,560.76 L237.88,561.82 L240.94,562.88 L244.00,563.94 L247.06,564.99 L250.12,566.05 L253.17,567.11 L256.23,568.17 L259.29,569.19 L262.35,570.19 L265.41,571.19 L268.47,572.20 L271.53,573.19 L274.59,574.16 L277.65,575.13 L280.71,576.11 L283.76,577.08 L286.82,578.06 L289.88,578.89 L292.94,579.64 L296.00,580.39 L299.06,581.14 L302.12,581.89 L305.18,582.64 L308.24,583.39 L311.29,584.27 L314.35,585.19 L317.41,586.12 L320.47,587.05 L323.53,587.97 L326.59,588.72 L329.65,589.07 L332.71,589.43 L335.77,589.75 L338.83,589.93 L341.88,590.11 L344.94,590.29 L348.00,590.47 L351.06,590.63 L354.12,590.80 L357.18,590.97 L360.24,591.13 L363.30,591.30 L366.36,591.47 L369.42,591.63 L372.47,591.80 L375.53,591.97 L378.59,592.13 L381.65,592.30 L384.71,592.47 L387.77,592.63 L390.83,592.80 L393.89,592.97 L396.95,593.13 L400.01,593.30 L403.06,593.48 L406.12,593.66 L409.18,593.84 L412.24,594.03 L415.30,594.21 L418.36,594.39 L421.42,594.57 L424.48,594.75 L427.54,594.93 L430.59,595.11 L433.65,595.30 L436.71,595.43 L439.77,595.50 L442.83,595.58 L445.89,595.65 L448.95,595.72 L452.01,595.79 L455.07,595.87 L458.13,595.94 L461.18,596.01 L464.24,596.09 L467.30,596.16 L470.36,596.23 L473.42,596.30 L476.48,596.38 L479.54,596.45 L482.60,596.52 L485.66,596.59 L488.72,596.67 L491.77,596.74 L494.83,596.83 L497.89,596.98 L500.95,597.14 L504.01,597.29 L507.07,597.45 L510.13,597.60 L513.19,597.76 L516.25,597.92 L519.31,598.07 L522.36,598.23 L525.42,598.38 L528.48,598.54 L531.54,598.69 L534.60,598.85 L537.66,599.00 L540.72,599.16 L543.78,599.30 L546.84,599.43 L549.89,599.56 L552.95,599.69 L556.01,599.82 L559.07,599.95 L562.13,600.08 L565.19,600.21 L568.25,600.34 L571.31,600.47 L574.37,600.59 L577.43,600.72 L580.48,600.66 L583.54,600.34 L586.60,600.01 L589.66,599.69 L592.72,599.37 L595.78,599.04 L598.84,598.72 L601.90,598.39 L604.96,598.07 L608.02,597.74 L611.07,597.42 L614.13,597.12 L617.19,596.82 L620.25,596.53 L623.31,596.24 L626.37,595.95 L629.43,595.65 L632.49,595.44 L635.55,595.25 L638.61,595.05 L641.66,594.86 L644.72,594.66 L647.78,594.47 L650.84,594.28 L653.90,594.08 L656.96,593.89 L660.02,593.69 L663.08,593.50 L666.14,593.30 L669.20,593.11 L672.25,592.91 L675.31,592.72 L678.37,592.56 L681.43,592.45 L684.49,592.34 L687.55,592.24 L690.61,592.13 L693.67,592.02 L696.73,591.91 L699.78,591.81 L702.84,591.67 L705.90,591.54 L708.96,591.40 L712.02,591.26 L715.08,591.12 L718.14,590.99 L721.20,590.85 L724.26,590.71 L727.32,590.58 L730.37,590.43 L733.43,590.16 L736.49,588.75 L739.55,586.45 L742.61,584.15 L745.67,581.85 L748.73,579.55 L751.79,577.25 L754.85,574.95 L757.91,572.65 L760.96,569.86 L764.02,566.84 L767.08,563.82 L770.14,560.80 L773.20,557.78 L776.26,554.73 L779.32,551.65 L782.38,548.58 L785.44,545.50 L788.50,542.42 L791.55,538.52 L794.61,533.26 L797.67,528.00 L800.73,522.61 L803.79,516.79 L806.85,510.97 L809.91,505.03 L812.97,498.65 L816.03,492.28 L819.08,485.91 L822.14,479.22 L825.20,472.41 L828.26,465.59 L831.32,458.25 L834.38,449.48 L837.44,440.71 L840.50,431.93 L843.56,423.14 L846.62,414.03 L849.67,404.92 L852.73,396.35 L855.79,389.47 L858.85,384.28 L861.20,380.38 L864.26,368.34 L867.32,356.09 L870.38,343.58 L873.44,330.92 L876.50,317.91 L879.56,304.89 L882.62,292.67 L885.68,282.04 L888.50,273.28" stroke="#9a9a9a" stroke-width="1.3" opacity=".0"/>
<path d="M176.70,514.02 L179.76,521.01 L182.82,525.66 L185.88,529.80 L188.94,533.17 L191.99,536.97 L195.05,540.94 L198.11,545.25 L201.17,549.09 L204.23,552.00 L207.29,553.02 L210.35,553.79 L213.41,554.65 L216.47,555.50 L219.53,556.36 L222.58,557.15 L225.64,557.88 L228.70,558.60 L231.76,559.27 L233.64,558.89 L235.06,556.13 L237.88,544.74 L238.35,544.18 L238.82,544.46 L241.88,558.09 L244.00,562.99 L247.06,564.48 L250.12,565.36 L253.17,565.81 L256.23,566.58 L259.29,568.20 L262.35,569.62 L265.41,570.69 L268.47,571.70 L271.53,572.69 L274.59,573.66 L277.65,574.63 L280.71,575.61 L283.76,576.58 L286.82,577.56 L289.88,578.39 L292.94,579.14 L296.00,579.89 L299.06,580.64 L302.12,581.39 L305.18,582.12 L307.06,582.00 L307.77,580.97 L308.71,576.27 L310.12,551.07 L313.18,427.43 L316.24,345.22 L317.18,336.61 L317.65,335.37 L317.88,335.51 L318.59,339.01 L320.94,383.47 L324.00,504.36 L326.12,572.24 L326.83,578.56 L327.06,578.99 L327.53,577.68 L330.59,516.76 L333.41,461.38 L334.12,456.87 L334.35,456.33 L334.59,456.28 L335.30,459.03 L338.36,515.51 L341.41,580.25 L342.83,587.91 L345.88,589.83 L348.94,590.02 L352.00,590.18 L355.06,590.35 L358.12,590.52 L361.18,590.68 L364.24,590.85 L367.30,591.02 L370.36,591.18 L373.42,591.35 L376.47,591.52 L379.53,591.68 L382.59,591.85 L385.65,592.02 L388.71,592.18 L391.77,592.35 L394.83,592.52 L397.89,592.68 L400.95,592.86 L404.01,593.04 L407.06,593.22 L410.12,593.40 L413.18,593.58 L416.24,593.76 L419.30,593.94 L422.36,594.13 L425.42,594.31 L428.48,594.49 L431.54,594.67 L434.60,594.55 L436.01,593.37 L437.18,589.90 L438.83,575.43 L441.89,511.63 L444.95,454.00 L446.60,441.17 L447.07,440.21 L447.30,440.19 L448.01,441.96 L450.36,467.13 L453.42,533.42 L456.48,585.62 L458.13,593.38 L461.18,595.46 L464.24,595.59 L467.30,595.65 L470.36,595.32 L472.01,593.63 L473.89,586.49 L476.95,558.28 L479.30,540.63 L480.01,539.06 L480.48,539.15 L481.66,543.31 L484.72,571.64 L487.54,591.70 L489.42,595.38 L492.48,596.24 L495.54,596.36 L498.60,596.52 L501.66,596.67 L504.72,596.83 L507.78,596.99 L510.83,597.14 L513.89,597.30 L516.95,597.45 L520.01,597.61 L523.07,597.76 L526.13,597.92 L529.19,598.07 L532.25,598.23 L535.31,598.39 L538.36,598.54 L541.42,598.70 L544.48,598.83 L547.54,598.96 L550.60,599.09 L553.66,599.22 L556.72,599.35 L559.78,599.48 L562.84,599.61 L565.90,599.74 L568.95,599.87 L572.01,600.00 L575.07,600.12 L578.13,600.25 L581.19,600.09 L584.25,599.76 L587.31,599.44 L590.37,599.12 L593.43,598.79 L596.49,598.47 L599.54,598.14 L602.60,597.82 L605.66,597.49 L608.72,597.17 L611.78,596.84 L614.84,596.55 L617.90,596.26 L620.96,595.96 L624.02,595.67 L627.08,595.38 L630.13,595.09 L633.19,594.90 L636.25,594.70 L639.31,594.51 L642.37,594.31 L645.43,594.12 L648.49,593.92 L651.55,593.73 L654.61,593.54 L657.67,593.34 L660.72,593.15 L663.78,592.95 L666.84,592.76 L669.90,592.56 L672.96,592.37 L676.02,592.18 L679.08,592.03 L682.14,591.93 L685.20,591.82 L688.25,591.71 L691.31,591.60 L694.37,591.50 L697.43,591.39 L700.49,591.28 L703.55,591.14 L706.61,591.00 L709.67,590.87 L712.73,590.73 L715.79,590.59 L718.84,590.46 L721.90,590.32 L724.96,590.18 L728.02,590.04 L731.08,589.90 L734.14,589.44 L737.20,587.72 L740.26,585.42 L743.32,583.12 L746.38,580.82 L749.43,578.52 L752.49,576.22 L755.55,573.92 L758.61,571.62 L761.67,568.66 L764.73,565.64 L767.79,562.62 L770.85,559.60 L773.91,556.58 L776.97,553.52 L780.02,550.44 L783.08,547.36 L786.14,544.29 L789.20,541.21 L792.26,536.80 L795.32,531.55 L798.38,526.29 L801.44,520.77 L804.50,514.95 L807.55,509.13 L810.61,503.05 L813.67,496.68 L816.73,490.31 L819.79,483.94 L822.85,477.15 L825.91,470.33 L828.97,463.51 L832.03,455.72 L835.09,446.95 L838.14,438.18 L841.20,429.41 L844.26,420.53 L847.32,411.43 L850.38,402.32 L853.44,394.26 L856.50,387.68 L859.56,382.62 L861.20,379.88 L864.26,367.84 L867.32,355.59 L870.38,343.08 L873.44,330.42 L876.50,317.41 L879.56,304.39 L882.62,292.17 L885.68,281.54 L888.50,272.78" stroke="#f85cf8" stroke-width="1.4"/>
</g>
<rect x="176.4" y="268.4" width="712.3000000000001" height="342.70000000000005" fill="none" stroke="#000" stroke-width="1.1"/>
<path d="M223.4,611.1 v4.9 M314.4,611.1 v4.9 M405.4,611.1 v4.9 M496.4,611.1 v4.9 M587.4,611.1 v4.9 M678.4,611.1 v4.9 M769.4,611.1 v4.9 M860.4,611.1 v4.9 M176.4,601.5 h-4.9 M176.4,459.5 h-4.9 M176.4,317.5 h-4.9" stroke="#000" stroke-width="1.1" fill="none"/>
<path d="M176.4,608.0 h-2.8 M176.4,558.8 h-2.8 M176.4,533.7 h-2.8 M176.4,516.0 h-2.8 M176.4,502.2 h-2.8 M176.4,491.0 h-2.8 M176.4,481.5 h-2.8 M176.4,473.3 h-2.8 M176.4,466.0 h-2.8 M176.4,416.8 h-2.8 M176.4,391.7 h-2.8 M176.4,374.0 h-2.8 M176.4,360.2 h-2.8 M176.4,349.0 h-2.8 M176.4,339.5 h-2.8 M176.4,331.3 h-2.8 M176.4,324.0 h-2.8 M176.4,274.8 h-2.8" stroke="#000" stroke-width="0.85" fill="none"/>
<text x="223.4" y="632.3" font-size="13.9" text-anchor="middle">2</text>
<text x="314.4" y="632.3" font-size="13.9" text-anchor="middle">4</text>
<text x="405.4" y="632.3" font-size="13.9" text-anchor="middle">6</text>
<text x="496.4" y="632.3" font-size="13.9" text-anchor="middle">8</text>
<text x="587.4" y="632.3" font-size="13.9" text-anchor="middle">10</text>
<text x="678.4" y="632.3" font-size="13.9" text-anchor="middle">12</text>
<text x="769.4" y="632.3" font-size="13.9" text-anchor="middle">14</text>
<text x="860.4" y="632.3" font-size="13.9" text-anchor="middle">16</text>
<text x="164.6" y="607.7" font-size="13.6" text-anchor="end">10<tspan dy="-5.6" dx="-0.4" font-size="9.5">2</tspan></text>
<text x="164.6" y="465.7" font-size="13.6" text-anchor="end">10<tspan dy="-5.6" dx="-0.4" font-size="9.5">3</tspan></text>
<text x="164.6" y="323.7" font-size="13.6" text-anchor="end">10<tspan dy="-5.6" dx="-0.4" font-size="9.5">4</tspan></text>
<text x="532" y="651.5" font-size="13.9" text-anchor="middle">Energy</text>
<text transform="translate(132,441.3) rotate(-90)" font-size="13.5" text-anchor="middle">Counts</text>
</svg>
<div class="lbl" style="left:40px;top:684px">Options</div>
<div class="abs" style="left:80px;top:694px;width:0;height:0;border-left:3.5px solid transparent;border-right:3.5px solid transparent;border-top:4px solid #000"></div>
<div class="lbl" style="left:97px;top:684px;font-weight:bold;font-size:13px;letter-spacing:0.8px">X:</div>
<div class="lbl" style="left:119px;top:684px">1.481422</div>
<div class="lbl" style="left:252px;top:684px;font-weight:bold;font-size:13px;letter-spacing:0.8px">Y:</div>
<div class="lbl" style="left:273px;top:684px">41990.12</div>

<div class="btn" style="left:105px;top:718px;width:89px;letter-spacing:0.09px">Fit Again!</div>
<div class="btn" style="left:202px;top:718px;width:89px">Print</div>
<div class="btn" style="left:299px;top:718px;width:89px;letter-spacing:-0.08px">HTML Report</div>
<div class="btn hot" style="left:396px;top:718px;width:99px;letter-spacing:0.16px">Matrix Spectrum</div>
<div class="btn" style="left:503px;top:718px;width:120px;letter-spacing:0.08px">MC Matrix Spectrum</div>
<div class="btn" style="left:632px;top:718px;width:97px">Peaks Spectrum</div>
<div class="btn" style="left:822px;top:718px;width:89px">Dismiss</div>

</body>
</html>
